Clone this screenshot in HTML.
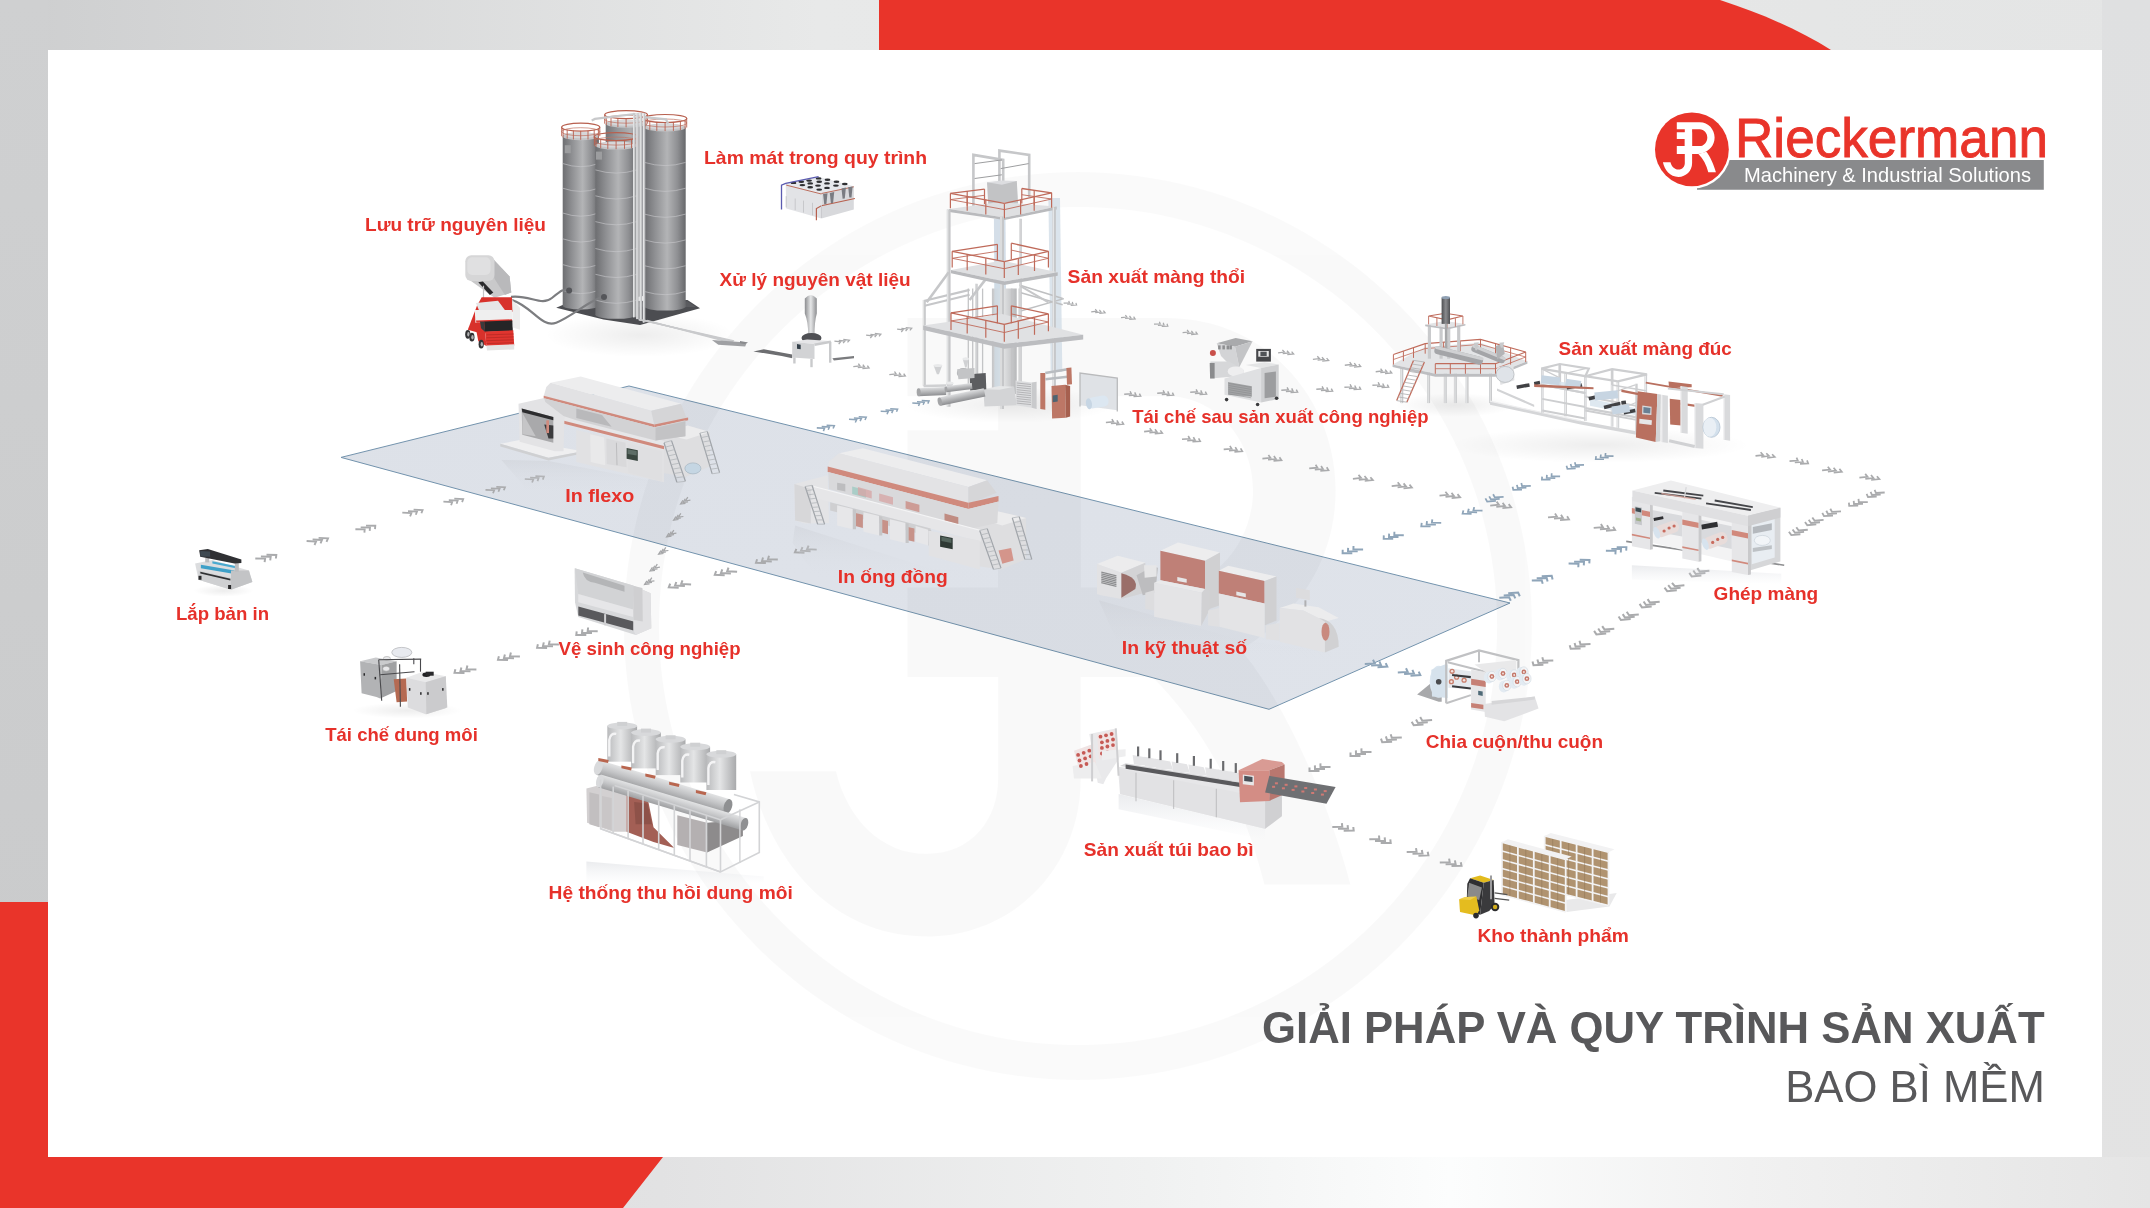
<!DOCTYPE html>
<html><head><meta charset="utf-8"><style>
html,body{margin:0;padding:0;width:2150px;height:1208px;overflow:hidden;background:#fff}
svg{display:block;will-change:transform}
.lb{font-family:"Liberation Sans",sans-serif;font-weight:bold;font-size:18.6px;fill:#e6312a}
.t1{font-family:"Liberation Sans",sans-serif;font-weight:bold;font-size:44.3px;fill:#58585a}
.t2{font-family:"Liberation Sans",sans-serif;font-size:44.6px;fill:#58585a}
.lg1{font-family:"Liberation Sans",sans-serif;font-size:55px;fill:#e9342a;stroke:#e9342a;stroke-width:0.9px}
.lg2{font-family:"Liberation Sans",sans-serif;font-size:21px;fill:#fff}
</style></head><body>
<svg width="2150" height="1208" viewBox="0 0 2150 1208">
<defs>
<linearGradient id="bgTop" x1="0" y1="0" x2="1" y2="0">
 <stop offset="0" stop-color="#cdcecf"/><stop offset="0.38" stop-color="#e8e9e9"/><stop offset="1" stop-color="#e4e5e5"/>
</linearGradient>
<linearGradient id="bgBot" x1="0" y1="0" x2="1" y2="0">
 <stop offset="0" stop-color="#d9dadb"/><stop offset="0.291" stop-color="#e2e2e3"/><stop offset="0.524" stop-color="#f0f1f1"/><stop offset="0.667" stop-color="#fcfdfd"/><stop offset="0.81" stop-color="#f1f1f1"/><stop offset="1" stop-color="#e5e5e5"/>
</linearGradient>
<linearGradient id="bgL" x1="0" y1="0" x2="0" y2="1">
 <stop offset="0" stop-color="#cfd0d1"/><stop offset="1" stop-color="#c9cacb"/>
</linearGradient>
<linearGradient id="bgR" x1="0" y1="0" x2="0" y2="1">
 <stop offset="0" stop-color="#dfe0e1"/><stop offset="1" stop-color="#e3e3e3"/>
</linearGradient>
<linearGradient id="floorG" x1="0" y1="0" x2="1" y2="1">
 <stop offset="0" stop-color="#dde1e8"/><stop offset="1" stop-color="#dfe3ea"/>
</linearGradient>
</defs>
<rect x="0.0" y="0.0" width="2150.0" height="1208.0" fill="url(#bgTop)" />
<rect x="0.0" y="0.0" width="48.0" height="1208.0" fill="url(#bgL)" />
<rect x="2102.0" y="0.0" width="48.0" height="1208.0" fill="url(#bgR)" />
<rect x="48.0" y="1157.0" width="2102.0" height="51.0" fill="url(#bgBot)" />
<rect x="48.0" y="50.0" width="2054.0" height="1107.0" fill="#ffffff" />
<path d="M879,0 L1720,0 C1760,13 1800,30 1831,50 L879,50 Z" fill="#e9342a"/>
<path d="M0,902 L48,902 L48,1157 L663,1157 L623,1208 L0,1208 Z" fill="#e9342a"/>
<polygon points="341.0,457.4 629.0,386.0 1510.0,603.0 1269.0,709.3" fill="url(#floorG)" stroke="#7393ad" stroke-width="1.0"/>
<g opacity="0.02" fill="#000">
<path d="M1078,172 A454,454 0 1 1 1077.9,172 Z M1078,207 A419,419 0 1 0 1078.1,207 Z" fill-rule="evenodd"/>
<g transform="translate(-18090.73,-1067.70) scale(11.33)">
<path d="M1676.8,122.3 H1699.7 C1708.5,122.3 1714.6,129.5 1714.6,137.5 C1714.6,145.5 1709,151 1703,153 L1698.4,154 H1676.8 V146.1 H1684.8 V139.1 H1676.8 V132.2 H1684.8 V129.2 H1676.8 Z M1692.1,132.2 V146.1 H1699.7 C1704,146.1 1707.3,142 1707.3,137.5 C1707.3,133 1704,129.2 1699.7,129.2 H1692.1 Z" fill-rule="evenodd"/><path d="M1684.8,132.2 H1692.1 V163 C1692.1,171 1686,176.9 1678.5,176.9 C1670,176.9 1664.5,170 1662.9,162.3 H1670.5 C1671.5,166.5 1674.5,169.6 1678.5,169.6 C1682.5,169.6 1684.8,166.5 1684.8,163 Z"/><path d="M1698.4,154 L1706.3,151.7 C1710,156 1714,165 1715.9,172.3 H1708.3 C1706.5,165 1703,158.5 1698.4,154 Z"/>
</g></g>
<g fill="none" stroke="#a5a6a8" stroke-width="1.25"><polyline points="685.5,503.3 680.6,504.0 682.9,500.2"/><polyline points="688.0,501.8 683.0,502.5 685.3,498.7"/><polyline points="690.4,500.2 685.4,501.0 687.8,497.2"/></g>
<g fill="none" stroke="#a5a6a8" stroke-width="1.25"><polyline points="678.5,519.5 673.6,520.2 675.9,516.5"/><polyline points="681.0,518.0 676.0,518.7 678.3,514.9"/><polyline points="683.4,516.5 678.4,517.2 680.8,513.4"/></g>
<g fill="none" stroke="#a5a6a8" stroke-width="1.25"><polyline points="671.5,536.2 666.6,536.9 668.9,533.1"/><polyline points="674.0,534.7 669.0,535.4 671.3,531.6"/><polyline points="676.4,533.1 671.4,533.9 673.8,530.1"/></g>
<g fill="none" stroke="#a5a6a8" stroke-width="1.25"><polyline points="663.5,553.5 658.6,554.2 660.9,550.5"/><polyline points="666.0,552.0 661.0,552.7 663.3,548.9"/><polyline points="668.4,550.5 663.4,551.2 665.8,547.4"/></g>
<g fill="none" stroke="#a5a6a8" stroke-width="1.25"><polyline points="655.0,570.3 650.1,571.0 652.4,567.2"/><polyline points="657.5,568.8 652.5,569.5 654.8,565.7"/><polyline points="659.9,567.2 654.9,568.0 657.3,564.2"/></g>
<g fill="none" stroke="#a5a6a8" stroke-width="1.25"><polyline points="649.5,583.8 644.6,584.5 646.9,580.8"/><polyline points="652.0,582.3 647.0,583.0 649.3,579.2"/><polyline points="654.4,580.8 649.4,581.5 651.8,577.7"/></g>
<g fill="none" stroke="#aaabad" stroke-width="1.96" stroke-linejoin="miter" stroke-miterlimit="3"><polyline points="275.9,558.5 276.3,555.0 266.5,554.8"/><polyline points="270.2,560.3 270.7,556.8 260.9,556.6"/><polyline points="264.6,562.2 265.1,558.6 255.3,558.5"/></g>
<g fill="none" stroke="#aaabad" stroke-width="1.91" stroke-linejoin="miter" stroke-miterlimit="3"><polyline points="326.5,541.8 328.0,538.4 318.6,537.9"/><polyline points="320.5,543.4 322.0,540.0 312.6,539.5"/><polyline points="314.5,545.0 316.0,541.6 306.6,541.0"/></g>
<g fill="none" stroke="#aaabad" stroke-width="1.87" stroke-linejoin="miter" stroke-miterlimit="3"><polyline points="375.0,529.1 375.3,525.7 366.0,525.6"/><polyline points="369.7,530.9 370.0,527.5 360.7,527.4"/><polyline points="364.4,532.7 364.7,529.3 355.4,529.2"/></g>
<g fill="none" stroke="#aaabad" stroke-width="1.82" stroke-linejoin="miter" stroke-miterlimit="3"><polyline points="421.4,513.3 422.6,510.1 413.6,509.6"/><polyline points="415.8,514.8 417.0,511.6 408.0,511.2"/><polyline points="410.1,516.4 411.4,513.1 402.3,512.7"/></g>
<g fill="none" stroke="#aaabad" stroke-width="1.79" stroke-linejoin="miter" stroke-miterlimit="3"><polyline points="462.1,502.1 463.2,499.0 454.3,498.6"/><polyline points="456.6,503.7 457.7,500.5 448.8,500.1"/><polyline points="451.1,505.2 452.2,502.0 443.4,501.7"/></g>
<g fill="none" stroke="#aaabad" stroke-width="1.75" stroke-linejoin="miter" stroke-miterlimit="3"><polyline points="503.8,490.3 505.0,487.2 496.3,486.8"/><polyline points="498.4,491.8 499.6,488.7 490.9,488.3"/><polyline points="493.0,493.3 494.2,490.2 485.5,489.8"/></g>
<g fill="none" stroke="#aaabad" stroke-width="1.72" stroke-linejoin="miter" stroke-miterlimit="3"><polyline points="542.8,479.6 543.9,476.5 535.4,476.1"/><polyline points="537.5,481.1 538.6,478.0 530.1,477.6"/><polyline points="532.1,482.5 533.3,479.5 524.8,479.0"/></g>
<g fill="none" stroke="#aaabad" stroke-width="1.94" stroke-linejoin="miter" stroke-miterlimit="3"><polyline points="796.4,548.9 794.9,552.3 804.5,552.8"/><polyline points="802.5,547.2 801.0,550.7 810.6,551.2"/><polyline points="808.6,545.6 807.1,549.1 816.7,549.6"/></g>
<g fill="none" stroke="#aaabad" stroke-width="1.97" stroke-linejoin="miter" stroke-miterlimit="3"><polyline points="757.1,559.2 756.0,562.7 765.9,563.1"/><polyline points="763.0,557.5 762.0,561.0 771.8,561.4"/><polyline points="769.0,555.7 768.0,559.3 777.8,559.6"/></g>
<g fill="none" stroke="#aaabad" stroke-width="2.00" stroke-linejoin="miter" stroke-miterlimit="3"><polyline points="716.2,571.1 714.8,574.7 724.7,575.2"/><polyline points="722.3,569.4 721.0,573.0 730.9,573.5"/><polyline points="728.5,567.7 727.2,571.3 737.1,571.8"/></g>
<g fill="none" stroke="#aaabad" stroke-width="2.00" stroke-linejoin="miter" stroke-miterlimit="3"><polyline points="670.2,583.7 668.8,587.3 678.7,587.8"/><polyline points="676.3,582.0 675.0,585.6 684.9,586.1"/><polyline points="682.5,580.3 681.2,583.9 691.1,584.4"/></g>
<g fill="none" stroke="#aaabad" stroke-width="2.00" stroke-linejoin="miter" stroke-miterlimit="3"><polyline points="576.7,631.3 576.3,634.9 586.3,635.0"/><polyline points="582.4,629.4 582.0,633.0 592.0,633.1"/><polyline points="588.1,627.5 587.7,631.1 597.7,631.2"/></g>
<g fill="none" stroke="#aaabad" stroke-width="2.00" stroke-linejoin="miter" stroke-miterlimit="3"><polyline points="537.9,644.2 537.1,647.8 547.1,648.1"/><polyline points="543.8,642.4 543.0,646.0 553.0,646.3"/><polyline points="549.7,640.6 548.9,644.2 558.9,644.5"/></g>
<g fill="none" stroke="#aaabad" stroke-width="2.00" stroke-linejoin="miter" stroke-miterlimit="3"><polyline points="498.9,656.2 498.0,659.8 508.0,660.1"/><polyline points="504.9,654.4 504.0,658.0 514.0,658.3"/><polyline points="510.9,652.6 510.0,656.2 519.9,656.5"/></g>
<g fill="none" stroke="#aaabad" stroke-width="2.00" stroke-linejoin="miter" stroke-miterlimit="3"><polyline points="455.4,669.2 454.5,672.8 464.5,673.1"/><polyline points="461.4,667.4 460.5,671.0 470.5,671.3"/><polyline points="467.4,665.6 466.5,669.2 476.4,669.5"/></g>
<g fill="none" stroke="#aaabad" stroke-width="1.29" stroke-linejoin="miter" stroke-miterlimit="3"><polyline points="847.5,342.4 849.4,340.2 843.3,339.5"/><polyline points="843.1,343.2 845.0,341.0 838.8,340.3"/><polyline points="838.7,344.1 840.6,341.8 834.4,341.2"/></g>
<g fill="none" stroke="#aaabad" stroke-width="1.27" stroke-linejoin="miter" stroke-miterlimit="3"><polyline points="879.0,336.3 880.8,334.2 874.8,333.5"/><polyline points="874.7,337.2 876.5,335.0 870.4,334.3"/><polyline points="870.3,338.0 872.2,335.8 866.1,335.2"/></g>
<g fill="none" stroke="#aaabad" stroke-width="1.25" stroke-linejoin="miter" stroke-miterlimit="3"><polyline points="909.9,330.3 911.7,328.2 905.7,327.5"/><polyline points="905.6,331.2 907.4,329.0 901.4,328.4"/><polyline points="901.3,332.0 903.1,329.8 897.1,329.2"/></g>
<g fill="none" stroke="#aaabad" stroke-width="1.37" stroke-linejoin="miter" stroke-miterlimit="3"><polyline points="862.4,368.6 869.0,368.0 867.4,365.6"/><polyline points="857.8,367.6 864.5,367.0 862.9,364.6"/><polyline points="853.3,366.6 860.0,366.0 858.4,363.6"/></g>
<g fill="none" stroke="#aaabad" stroke-width="1.39" stroke-linejoin="miter" stroke-miterlimit="3"><polyline points="898.5,376.6 905.3,376.0 903.7,373.6"/><polyline points="893.9,375.6 900.7,375.0 899.1,372.6"/><polyline points="889.3,374.6 896.1,374.0 894.5,371.5"/></g>
<g fill="none" stroke="#8fa5b9" stroke-width="1.56" stroke-linejoin="miter" stroke-miterlimit="3"><polyline points="833.1,428.5 834.3,425.7 826.6,425.3"/><polyline points="828.2,429.8 829.4,427.0 821.7,426.6"/><polyline points="823.4,431.1 824.5,428.3 816.8,427.9"/></g>
<g fill="none" stroke="#8fa5b9" stroke-width="1.53" stroke-linejoin="miter" stroke-miterlimit="3"><polyline points="865.0,420.0 866.2,417.3 858.7,416.8"/><polyline points="860.1,421.2 861.4,418.5 853.9,418.0"/><polyline points="855.3,422.5 856.6,419.7 849.0,419.3"/></g>
<g fill="none" stroke="#8fa5b9" stroke-width="1.50" stroke-linejoin="miter" stroke-miterlimit="3"><polyline points="896.5,411.8 897.6,409.2 890.2,408.7"/><polyline points="891.7,413.1 892.9,410.4 885.5,410.0"/><polyline points="887.0,414.3 888.2,411.6 880.7,411.2"/></g>
<g fill="none" stroke="#8fa5b9" stroke-width="1.48" stroke-linejoin="miter" stroke-miterlimit="3"><polyline points="927.8,403.6 929.0,401.0 921.7,400.6"/><polyline points="923.1,404.8 924.3,402.2 917.0,401.8"/><polyline points="918.5,406.0 919.6,403.4 912.3,403.0"/></g>
<g fill="none" stroke="#aaabad" stroke-width="1.17" stroke-linejoin="miter" stroke-miterlimit="3"><polyline points="1070.7,305.3 1076.6,305.0 1075.9,302.9"/><polyline points="1067.2,304.2 1073.0,304.0 1072.3,301.9"/><polyline points="1063.6,303.2 1069.4,303.0 1068.8,300.9"/></g>
<g fill="none" stroke="#aaabad" stroke-width="1.20" stroke-linejoin="miter" stroke-miterlimit="3"><polyline points="1099.3,313.4 1105.1,312.8 1103.4,310.7"/><polyline points="1095.2,312.6 1101.0,312.0 1099.4,309.9"/><polyline points="1091.2,311.8 1096.9,311.2 1095.3,309.1"/></g>
<g fill="none" stroke="#aaabad" stroke-width="1.22" stroke-linejoin="miter" stroke-miterlimit="3"><polyline points="1129.2,319.4 1135.1,318.9 1133.6,316.7"/><polyline points="1125.1,318.5 1131.0,318.0 1129.5,315.9"/><polyline points="1121.0,317.7 1126.9,317.1 1125.4,315.0"/></g>
<g fill="none" stroke="#aaabad" stroke-width="1.24" stroke-linejoin="miter" stroke-miterlimit="3"><polyline points="1161.7,326.3 1167.8,326.1 1167.0,323.8"/><polyline points="1157.9,325.3 1164.0,325.0 1163.2,322.8"/><polyline points="1154.0,324.2 1160.2,323.9 1159.4,321.7"/></g>
<g fill="none" stroke="#aaabad" stroke-width="1.26" stroke-linejoin="miter" stroke-miterlimit="3"><polyline points="1191.1,334.5 1197.3,333.9 1195.6,331.7"/><polyline points="1186.9,333.6 1193.0,333.0 1191.4,330.8"/><polyline points="1182.6,332.7 1188.7,332.1 1187.1,329.9"/></g>
<g fill="none" stroke="#aaabad" stroke-width="1.33" stroke-linejoin="miter" stroke-miterlimit="3"><polyline points="1287.3,354.6 1293.6,353.9 1291.6,351.6"/><polyline points="1282.7,353.7 1289.0,353.0 1287.0,350.7"/><polyline points="1278.1,352.9 1284.4,352.1 1282.4,349.9"/></g>
<g fill="none" stroke="#aaabad" stroke-width="1.35" stroke-linejoin="miter" stroke-miterlimit="3"><polyline points="1322.2,361.1 1328.6,360.4 1326.6,358.1"/><polyline points="1317.6,360.2 1324.0,359.5 1322.0,357.2"/><polyline points="1312.9,359.4 1319.4,358.6 1317.3,356.3"/></g>
<g fill="none" stroke="#aaabad" stroke-width="1.36" stroke-linejoin="miter" stroke-miterlimit="3"><polyline points="1354.0,367.1 1360.6,366.5 1358.8,364.1"/><polyline points="1349.4,366.1 1356.0,365.5 1354.3,363.1"/><polyline points="1344.8,365.2 1351.4,364.5 1349.7,362.2"/></g>
<g fill="none" stroke="#aaabad" stroke-width="1.38" stroke-linejoin="miter" stroke-miterlimit="3"><polyline points="1385.0,373.6 1391.7,373.0 1389.9,370.6"/><polyline points="1380.3,372.6 1387.0,372.0 1385.2,369.6"/><polyline points="1375.7,371.7 1382.3,371.0 1380.6,368.6"/></g>
<g fill="none" stroke="#aaabad" stroke-width="1.46" stroke-linejoin="miter" stroke-miterlimit="3"><polyline points="1133.5,396.6 1140.7,396.2 1139.4,393.6"/><polyline points="1128.8,395.5 1136.0,395.0 1134.7,392.4"/><polyline points="1124.2,394.3 1131.3,393.8 1130.1,391.3"/></g>
<g fill="none" stroke="#aaabad" stroke-width="1.45" stroke-linejoin="miter" stroke-miterlimit="3"><polyline points="1166.5,395.6 1173.6,395.2 1172.4,392.6"/><polyline points="1161.8,394.5 1169.0,394.0 1167.7,391.4"/><polyline points="1157.2,393.3 1164.4,392.8 1163.1,390.3"/></g>
<g fill="none" stroke="#aaabad" stroke-width="1.45" stroke-linejoin="miter" stroke-miterlimit="3"><polyline points="1199.5,394.6 1206.6,394.2 1205.3,391.6"/><polyline points="1194.9,393.5 1202.0,393.0 1200.7,390.4"/><polyline points="1190.2,392.3 1197.4,391.8 1196.1,389.3"/></g>
<g fill="none" stroke="#aaabad" stroke-width="1.44" stroke-linejoin="miter" stroke-miterlimit="3"><polyline points="1290.5,392.6 1297.6,392.2 1296.3,389.6"/><polyline points="1285.9,391.5 1293.0,391.0 1291.7,388.4"/><polyline points="1281.3,390.3 1288.4,389.8 1287.1,387.3"/></g>
<g fill="none" stroke="#aaabad" stroke-width="1.44" stroke-linejoin="miter" stroke-miterlimit="3"><polyline points="1325.5,391.6 1332.6,391.2 1331.3,388.6"/><polyline points="1320.9,390.5 1328.0,390.0 1326.7,387.4"/><polyline points="1316.3,389.3 1323.4,388.8 1322.1,386.3"/></g>
<g fill="none" stroke="#aaabad" stroke-width="1.43" stroke-linejoin="miter" stroke-miterlimit="3"><polyline points="1353.5,389.6 1360.6,389.1 1359.3,386.6"/><polyline points="1348.9,388.5 1356.0,388.0 1354.7,385.5"/><polyline points="1344.4,387.3 1351.4,386.9 1350.1,384.3"/></g>
<g fill="none" stroke="#aaabad" stroke-width="1.43" stroke-linejoin="miter" stroke-miterlimit="3"><polyline points="1381.5,387.6 1388.6,387.1 1387.3,384.6"/><polyline points="1377.0,386.5 1384.0,386.0 1382.7,383.5"/><polyline points="1372.4,385.3 1379.4,384.9 1378.2,382.3"/></g>
<g fill="none" stroke="#aaabad" stroke-width="1.54" stroke-linejoin="miter" stroke-miterlimit="3"><polyline points="1116.0,424.8 1123.5,424.2 1121.9,421.5"/><polyline points="1110.9,423.6 1118.5,423.0 1116.9,420.3"/><polyline points="1105.9,422.4 1113.5,421.8 1111.9,419.1"/></g>
<g fill="none" stroke="#aaabad" stroke-width="1.57" stroke-linejoin="miter" stroke-miterlimit="3"><polyline points="1154.7,433.8 1162.3,433.1 1160.3,430.4"/><polyline points="1149.4,432.7 1157.0,432.0 1155.0,429.3"/><polyline points="1144.1,431.6 1151.7,430.9 1149.7,428.2"/></g>
<g fill="none" stroke="#aaabad" stroke-width="1.60" stroke-linejoin="miter" stroke-miterlimit="3"><polyline points="1192.4,441.8 1200.2,441.2 1198.6,438.4"/><polyline points="1187.2,440.6 1195.0,440.0 1193.4,437.2"/><polyline points="1182.0,439.3 1189.8,438.8 1188.2,436.0"/></g>
<g fill="none" stroke="#aaabad" stroke-width="1.63" stroke-linejoin="miter" stroke-miterlimit="3"><polyline points="1234.4,451.9 1242.3,451.2 1240.6,448.4"/><polyline points="1229.0,450.6 1237.0,450.0 1235.3,447.1"/><polyline points="1223.7,449.4 1231.7,448.8 1229.9,445.9"/></g>
<g fill="none" stroke="#aaabad" stroke-width="1.66" stroke-linejoin="miter" stroke-miterlimit="3"><polyline points="1273.5,460.9 1281.5,460.2 1279.5,457.3"/><polyline points="1268.0,459.7 1276.0,459.0 1273.9,456.1"/><polyline points="1262.4,458.6 1270.5,457.8 1268.4,454.9"/></g>
<g fill="none" stroke="#aaabad" stroke-width="1.69" stroke-linejoin="miter" stroke-miterlimit="3"><polyline points="1320.3,470.9 1328.5,470.3 1326.7,467.3"/><polyline points="1314.8,469.7 1323.0,469.0 1321.1,466.0"/><polyline points="1309.2,468.4 1317.5,467.7 1315.6,464.8"/></g>
<g fill="none" stroke="#aaabad" stroke-width="1.72" stroke-linejoin="miter" stroke-miterlimit="3"><polyline points="1364.7,481.0 1372.9,480.1 1370.4,477.2"/><polyline points="1358.8,479.9 1367.0,479.0 1364.5,476.0"/><polyline points="1352.9,478.8 1361.1,477.9 1358.5,474.9"/></g>
<g fill="none" stroke="#aaabad" stroke-width="1.74" stroke-linejoin="miter" stroke-miterlimit="3"><polyline points="1403.5,488.4 1411.9,487.6 1409.5,484.6"/><polyline points="1397.6,487.3 1406.0,486.4 1403.6,483.4"/><polyline points="1391.7,486.1 1400.1,485.2 1397.7,482.2"/></g>
<g fill="none" stroke="#aaabad" stroke-width="1.77" stroke-linejoin="miter" stroke-miterlimit="3"><polyline points="1451.6,498.1 1460.1,497.2 1457.5,494.1"/><polyline points="1445.5,496.9 1454.0,496.0 1451.5,492.9"/><polyline points="1439.5,495.7 1447.9,494.8 1445.4,491.8"/></g>
<g fill="none" stroke="#aaabad" stroke-width="1.80" stroke-linejoin="miter" stroke-miterlimit="3"><polyline points="1502.4,508.1 1511.1,507.3 1508.7,504.1"/><polyline points="1496.3,506.8 1505.0,506.0 1502.6,502.9"/><polyline points="1490.2,505.6 1498.9,504.7 1496.6,501.6"/></g>
<g fill="none" stroke="#aaabad" stroke-width="1.84" stroke-linejoin="miter" stroke-miterlimit="3"><polyline points="1560.0,520.1 1569.0,519.4 1567.1,516.2"/><polyline points="1554.0,518.7 1563.0,518.0 1561.0,514.8"/><polyline points="1548.0,517.3 1557.0,516.6 1555.0,513.4"/></g>
<g fill="none" stroke="#aaabad" stroke-width="1.87" stroke-linejoin="miter" stroke-miterlimit="3"><polyline points="1606.0,530.7 1615.1,530.0 1613.1,526.7"/><polyline points="1599.9,529.3 1609.0,528.6 1607.0,525.3"/><polyline points="1593.7,527.9 1602.9,527.2 1600.9,523.9"/></g>
<g fill="none" stroke="#8fa5b9" stroke-width="1.65" stroke-linejoin="miter" stroke-miterlimit="3"><polyline points="1596.1,456.1 1595.7,459.1 1604.0,459.2"/><polyline points="1600.9,454.5 1600.5,457.5 1608.7,457.6"/><polyline points="1605.6,453.0 1605.3,455.9 1613.5,456.1"/></g>
<g fill="none" stroke="#8fa5b9" stroke-width="1.68" stroke-linejoin="miter" stroke-miterlimit="3"><polyline points="1566.5,465.8 1567.4,468.8 1575.7,468.5"/><polyline points="1570.6,464.0 1571.5,467.0 1579.9,466.7"/><polyline points="1574.8,462.2 1575.6,465.2 1584.0,464.9"/></g>
<g fill="none" stroke="#8fa5b9" stroke-width="1.72" stroke-linejoin="miter" stroke-miterlimit="3"><polyline points="1542.1,476.6 1541.9,479.7 1550.5,479.7"/><polyline points="1546.9,474.9 1546.7,478.0 1555.3,478.1"/><polyline points="1551.7,473.3 1551.5,476.3 1560.1,476.4"/></g>
<g fill="none" stroke="#8fa5b9" stroke-width="1.75" stroke-linejoin="miter" stroke-miterlimit="3"><polyline points="1512.6,486.7 1513.3,489.9 1522.0,489.6"/><polyline points="1516.9,484.9 1517.7,488.0 1526.4,487.7"/><polyline points="1521.3,483.0 1522.1,486.1 1530.8,485.8"/></g>
<g fill="none" stroke="#8fa5b9" stroke-width="1.78" stroke-linejoin="miter" stroke-miterlimit="3"><polyline points="1485.4,498.4 1487.2,501.6 1495.9,500.9"/><polyline points="1489.2,496.4 1491.0,499.5 1499.7,498.9"/><polyline points="1493.1,494.3 1494.8,497.4 1503.6,496.8"/></g>
<g fill="none" stroke="#8fa5b9" stroke-width="1.82" stroke-linejoin="miter" stroke-miterlimit="3"><polyline points="1463.4,510.4 1462.6,513.6 1471.6,513.9"/><polyline points="1468.8,508.7 1468.0,512.0 1477.1,512.3"/><polyline points="1474.2,507.1 1473.4,510.4 1482.5,510.6"/></g>
<g fill="none" stroke="#8fa5b9" stroke-width="1.86" stroke-linejoin="miter" stroke-miterlimit="3"><polyline points="1421.7,522.9 1421.3,526.3 1430.6,526.4"/><polyline points="1427.0,521.2 1426.6,524.5 1435.9,524.6"/><polyline points="1432.3,519.4 1431.9,522.7 1441.2,522.9"/></g>
<g fill="none" stroke="#8fa5b9" stroke-width="1.90" stroke-linejoin="miter" stroke-miterlimit="3"><polyline points="1383.8,535.4 1383.7,538.9 1393.2,538.9"/><polyline points="1389.1,533.6 1389.0,537.0 1398.5,537.0"/><polyline points="1394.4,531.7 1394.3,535.1 1403.8,535.2"/></g>
<g fill="none" stroke="#8fa5b9" stroke-width="1.94" stroke-linejoin="miter" stroke-miterlimit="3"><polyline points="1342.7,549.8 1342.6,553.3 1352.3,553.3"/><polyline points="1348.1,547.9 1348.0,551.4 1357.7,551.4"/><polyline points="1353.5,546.0 1353.4,549.5 1363.1,549.5"/></g>
<g fill="none" stroke="#aaabad" stroke-width="1.65" stroke-linejoin="miter" stroke-miterlimit="3"><polyline points="1767.0,458.0 1774.8,457.0 1772.1,454.2"/><polyline points="1761.2,457.0 1769.0,456.0 1766.3,453.2"/><polyline points="1755.5,455.9 1763.2,455.0 1760.6,452.2"/></g>
<g fill="none" stroke="#aaabad" stroke-width="1.67" stroke-linejoin="miter" stroke-miterlimit="3"><polyline points="1800.0,463.8 1808.2,463.4 1807.0,460.4"/><polyline points="1794.8,462.5 1803.0,462.0 1801.7,459.0"/><polyline points="1789.5,461.1 1797.8,460.6 1796.5,457.7"/></g>
<g fill="none" stroke="#aaabad" stroke-width="1.69" stroke-linejoin="miter" stroke-miterlimit="3"><polyline points="1833.7,472.7 1841.8,471.8 1839.4,468.9"/><polyline points="1827.9,471.6 1836.0,470.7 1833.6,467.8"/><polyline points="1822.1,470.4 1830.2,469.6 1827.8,466.7"/></g>
<g fill="none" stroke="#aaabad" stroke-width="1.72" stroke-linejoin="miter" stroke-miterlimit="3"><polyline points="1871.1,480.0 1879.4,479.1 1876.9,476.2"/><polyline points="1865.3,478.9 1873.5,478.0 1871.0,475.0"/><polyline points="1859.4,477.7 1867.6,476.9 1865.2,473.9"/></g>
<g fill="none" stroke="#aaabad" stroke-width="1.77" stroke-linejoin="miter" stroke-miterlimit="3"><polyline points="1866.6,493.9 1868.0,497.0 1876.7,496.5"/><polyline points="1870.6,491.9 1872.0,495.0 1880.7,494.5"/><polyline points="1874.6,489.8 1876.0,493.0 1884.7,492.5"/></g>
<g fill="none" stroke="#aaabad" stroke-width="1.80" stroke-linejoin="miter" stroke-miterlimit="3"><polyline points="1848.9,502.6 1849.2,505.8 1858.2,505.7"/><polyline points="1853.7,500.8 1854.0,504.0 1863.0,503.9"/><polyline points="1858.5,498.9 1858.8,502.2 1867.8,502.1"/></g>
<g fill="none" stroke="#aaabad" stroke-width="1.83" stroke-linejoin="miter" stroke-miterlimit="3"><polyline points="1822.3,512.9 1824.0,516.1 1833.0,515.5"/><polyline points="1826.3,510.8 1828.0,514.0 1837.0,513.4"/><polyline points="1830.3,508.7 1832.0,511.9 1841.0,511.3"/></g>
<g fill="none" stroke="#aaabad" stroke-width="1.86" stroke-linejoin="miter" stroke-miterlimit="3"><polyline points="1805.0,522.0 1807.3,525.2 1816.3,524.4"/><polyline points="1808.7,519.8 1811.0,523.0 1820.0,522.2"/><polyline points="1812.3,517.5 1814.7,520.8 1823.6,519.9"/></g>
<g fill="none" stroke="#aaabad" stroke-width="1.89" stroke-linejoin="miter" stroke-miterlimit="3"><polyline points="1788.9,531.8 1791.3,535.1 1800.4,534.2"/><polyline points="1792.6,529.5 1795.0,532.8 1804.1,531.9"/><polyline points="1796.3,527.2 1798.7,530.5 1807.8,529.7"/></g>
<g fill="none" stroke="#8fa5b9" stroke-width="2.00" stroke-linejoin="miter" stroke-miterlimit="3"><polyline points="1519.8,596.2 1518.1,592.6 1508.2,593.2"/><polyline points="1515.3,598.4 1513.6,594.9 1503.7,595.5"/><polyline points="1510.8,600.7 1509.1,597.2 1499.3,597.8"/></g>
<g fill="none" stroke="#8fa5b9" stroke-width="2.00" stroke-linejoin="miter" stroke-miterlimit="3"><polyline points="1552.6,579.4 1551.7,575.8 1541.7,576.2"/><polyline points="1547.6,581.6 1546.7,578.0 1536.7,578.3"/><polyline points="1542.7,583.7 1541.7,580.2 1531.8,580.5"/></g>
<g fill="none" stroke="#8fa5b9" stroke-width="1.98" stroke-linejoin="miter" stroke-miterlimit="3"><polyline points="1589.3,563.4 1589.5,559.9 1579.7,559.8"/><polyline points="1583.8,565.4 1584.0,561.8 1574.1,561.7"/><polyline points="1578.3,567.3 1578.5,563.7 1568.6,563.6"/></g>
<g fill="none" stroke="#8fa5b9" stroke-width="1.94" stroke-linejoin="miter" stroke-miterlimit="3"><polyline points="1626.2,550.6 1626.4,547.1 1616.7,547.1"/><polyline points="1620.8,552.5 1621.0,549.0 1611.3,548.9"/><polyline points="1615.4,554.4 1615.6,550.9 1605.9,550.8"/></g>
<g fill="none" stroke="#aaabad" stroke-width="2.00" stroke-linejoin="miter" stroke-miterlimit="3"><polyline points="1689.3,572.9 1691.7,576.4 1701.4,575.5"/><polyline points="1693.3,570.5 1695.7,574.0 1705.4,573.1"/><polyline points="1697.3,568.1 1699.7,571.6 1709.4,570.7"/></g>
<g fill="none" stroke="#aaabad" stroke-width="2.00" stroke-linejoin="miter" stroke-miterlimit="3"><polyline points="1664.5,587.7 1667.2,591.2 1676.8,590.2"/><polyline points="1668.2,585.2 1671.0,588.7 1680.6,587.7"/><polyline points="1672.0,582.8 1674.8,586.2 1684.4,585.3"/></g>
<g fill="none" stroke="#aaabad" stroke-width="2.00" stroke-linejoin="miter" stroke-miterlimit="3"><polyline points="1639.6,603.9 1642.0,607.4 1651.7,606.5"/><polyline points="1643.6,601.5 1646.0,605.0 1655.7,604.1"/><polyline points="1647.6,599.1 1650.0,602.6 1659.7,601.7"/></g>
<g fill="none" stroke="#aaabad" stroke-width="2.00" stroke-linejoin="miter" stroke-miterlimit="3"><polyline points="1618.6,616.5 1620.9,620.0 1630.7,619.1"/><polyline points="1622.7,614.1 1625.0,617.6 1634.7,616.8"/><polyline points="1626.7,611.7 1629.1,615.2 1638.8,614.4"/></g>
<g fill="none" stroke="#aaabad" stroke-width="2.00" stroke-linejoin="miter" stroke-miterlimit="3"><polyline points="1594.1,630.9 1596.4,634.4 1606.2,633.5"/><polyline points="1598.2,628.5 1600.5,632.0 1610.2,631.2"/><polyline points="1602.2,626.1 1604.6,629.6 1614.3,628.8"/></g>
<g fill="none" stroke="#aaabad" stroke-width="2.00" stroke-linejoin="miter" stroke-miterlimit="3"><polyline points="1569.7,645.2 1570.7,648.8 1580.6,648.4"/><polyline points="1574.6,643.0 1575.6,646.6 1585.5,646.2"/><polyline points="1579.5,640.8 1580.5,644.4 1590.5,644.1"/></g>
<g fill="none" stroke="#aaabad" stroke-width="2.00" stroke-linejoin="miter" stroke-miterlimit="3"><polyline points="1532.5,661.6 1533.5,665.2 1543.4,664.8"/><polyline points="1537.4,659.4 1538.4,663.0 1548.3,662.6"/><polyline points="1542.3,657.2 1543.3,660.8 1553.3,660.5"/></g>
<g fill="none" stroke="#8fa5b9" stroke-width="2.00" stroke-linejoin="miter" stroke-miterlimit="3"><polyline points="1377.5,667.2 1387.3,666.6 1385.7,663.1"/><polyline points="1371.1,665.6 1381.0,665.0 1379.4,661.4"/><polyline points="1364.8,664.0 1374.7,663.4 1373.0,659.8"/></g>
<g fill="none" stroke="#8fa5b9" stroke-width="2.00" stroke-linejoin="miter" stroke-miterlimit="3"><polyline points="1410.5,675.7 1420.3,675.1 1418.7,671.6"/><polyline points="1404.1,674.1 1414.0,673.5 1412.4,669.9"/><polyline points="1397.8,672.5 1407.7,671.9 1406.0,668.3"/></g>
<g fill="none" stroke="#aaabad" stroke-width="2.00" stroke-linejoin="miter" stroke-miterlimit="3"><polyline points="1411.7,721.8 1413.7,725.3 1423.5,724.6"/><polyline points="1416.0,719.5 1418.0,723.0 1427.8,722.3"/><polyline points="1420.2,717.1 1422.3,720.7 1432.1,719.9"/></g>
<g fill="none" stroke="#aaabad" stroke-width="2.00" stroke-linejoin="miter" stroke-miterlimit="3"><polyline points="1381.0,738.6 1382.2,742.2 1392.1,741.8"/><polyline points="1385.9,736.4 1387.0,740.0 1396.9,739.6"/><polyline points="1390.7,734.2 1391.8,737.8 1401.8,737.4"/></g>
<g fill="none" stroke="#aaabad" stroke-width="2.00" stroke-linejoin="miter" stroke-miterlimit="3"><polyline points="1350.5,752.4 1350.5,756.0 1360.5,756.0"/><polyline points="1355.9,750.4 1356.0,754.0 1366.0,754.0"/><polyline points="1361.4,748.4 1361.5,752.0 1371.5,752.0"/></g>
<g fill="none" stroke="#aaabad" stroke-width="2.00" stroke-linejoin="miter" stroke-miterlimit="3"><polyline points="1309.5,767.4 1309.5,771.0 1319.5,771.0"/><polyline points="1314.9,765.4 1315.0,769.0 1325.0,769.0"/><polyline points="1320.4,763.4 1320.5,767.0 1330.5,767.0"/></g>
<g fill="none" stroke="#aaabad" stroke-width="2.00" stroke-linejoin="miter" stroke-miterlimit="3"><polyline points="1343.7,830.7 1353.7,830.6 1353.3,827.0"/><polyline points="1338.0,828.8 1348.0,828.7 1347.6,825.1"/><polyline points="1332.3,826.9 1342.3,826.8 1341.9,823.2"/></g>
<g fill="none" stroke="#aaabad" stroke-width="2.00" stroke-linejoin="miter" stroke-miterlimit="3"><polyline points="1380.7,843.0 1390.7,842.9 1390.3,839.3"/><polyline points="1375.0,841.1 1385.0,841.0 1384.7,837.4"/><polyline points="1369.3,839.2 1379.3,839.1 1379.0,835.5"/></g>
<g fill="none" stroke="#aaabad" stroke-width="2.00" stroke-linejoin="miter" stroke-miterlimit="3"><polyline points="1418.4,855.7 1428.4,855.4 1427.7,851.8"/><polyline points="1412.5,853.8 1422.5,853.6 1421.8,850.0"/><polyline points="1406.7,852.0 1416.6,851.8 1416.0,848.2"/></g>
<g fill="none" stroke="#aaabad" stroke-width="2.00" stroke-linejoin="miter" stroke-miterlimit="3"><polyline points="1451.5,866.1 1461.5,865.8 1460.8,862.2"/><polyline points="1445.6,864.2 1455.6,864.0 1454.9,860.4"/><polyline points="1439.8,862.4 1449.7,862.2 1449.1,858.6"/></g>
<defs>
<linearGradient id="siloG" x1="0" y1="0" x2="1" y2="0">
 <stop offset="0" stop-color="#6d6e71"/><stop offset="0.25" stop-color="#8e8f92"/><stop offset="0.55" stop-color="#b3b4b6"/><stop offset="0.8" stop-color="#8f9093"/><stop offset="1" stop-color="#67686b"/>
</linearGradient>
<linearGradient id="siloG2" x1="0" y1="0" x2="1" y2="0">
 <stop offset="0" stop-color="#747578"/><stop offset="0.3" stop-color="#96979a"/><stop offset="0.6" stop-color="#aeafb1"/><stop offset="0.85" stop-color="#8b8c8f"/><stop offset="1" stop-color="#6f7073"/>
</linearGradient>
<linearGradient id="pipeG" x1="0" y1="0" x2="1" y2="0">
 <stop offset="0" stop-color="#9fa0a2"/><stop offset="0.5" stop-color="#e2e3e4"/><stop offset="1" stop-color="#a9aaac"/>
</linearGradient>
<radialGradient id="shadowG" cx="0.5" cy="0.5" r="0.5">
 <stop offset="0" stop-color="#000" stop-opacity="0.07"/><stop offset="1" stop-color="#000" stop-opacity="0"/>
</radialGradient>
</defs>
<ellipse cx="640" cy="335" rx="95" ry="22" fill="url(#shadowG)"/>
<polygon points="556.2,307.7 569.1,302.3 687.5,300.1 700.0,308.3 640.1,324.9 603.5,319.5" fill="#4c4d51" />
<polygon points="560.5,306.6 687.5,301.2 696.1,307.0" fill="#5a5b5f" />
<rect x="605.7" y="123.7" width="40.9" height="170.0" fill="url(#siloG2)"/>
<ellipse cx="626.1" cy="293.7" rx="20.4" ry="4" fill="url(#siloG2)"/>
<ellipse cx="626.1" cy="123.7" rx="20.4" ry="4" fill="#c4c5c7"/>
<ellipse cx="626.1" cy="122.7" rx="17.4" ry="3" fill="#d6d7d9"/>
<ellipse cx="626.1" cy="114.7" rx="21.4" ry="4" fill="none" stroke="#b8604f" stroke-width="1.2"/>
<ellipse cx="626.1" cy="119.2" rx="21.4" ry="4" fill="none" stroke="#c07263" stroke-width="0.7"/>
<line x1="604.7" y1="123.7" x2="604.7" y2="114.7" stroke="#b8604f" stroke-width="0.9" />
<line x1="606.3" y1="125.0" x2="606.3" y2="116.0" stroke="#b8604f" stroke-width="0.9" />
<line x1="611.0" y1="126.2" x2="611.0" y2="117.2" stroke="#b8604f" stroke-width="0.9" />
<line x1="617.9" y1="127.0" x2="617.9" y2="118.0" stroke="#b8604f" stroke-width="0.9" />
<line x1="626.1" y1="127.3" x2="626.1" y2="118.3" stroke="#b8604f" stroke-width="0.9" />
<line x1="634.3" y1="127.0" x2="634.3" y2="118.0" stroke="#b8604f" stroke-width="0.9" />
<line x1="641.3" y1="126.2" x2="641.3" y2="117.2" stroke="#b8604f" stroke-width="0.9" />
<line x1="646.0" y1="125.0" x2="646.0" y2="116.0" stroke="#b8604f" stroke-width="0.9" />
<line x1="647.6" y1="123.7" x2="647.6" y2="114.7" stroke="#b8604f" stroke-width="0.9" />
<rect x="562.7" y="136.2" width="36.2" height="169.4" fill="url(#siloG)"/>
<ellipse cx="580.7" cy="305.5" rx="18.1" ry="4" fill="url(#siloG)"/>
<path d="M562.7,163.5 Q580.7,169.9 598.8,163.5" fill="none" stroke="#c9cacc" stroke-width="0.8" opacity="0.75"/>
<path d="M562.7,188.2 Q580.7,194.6 598.8,188.2" fill="none" stroke="#c9cacc" stroke-width="0.8" opacity="0.75"/>
<path d="M562.7,213.0 Q580.7,219.4 598.8,213.0" fill="none" stroke="#c9cacc" stroke-width="0.8" opacity="0.75"/>
<path d="M562.7,238.8 Q580.7,245.2 598.8,238.8" fill="none" stroke="#c9cacc" stroke-width="0.8" opacity="0.75"/>
<path d="M562.7,264.6 Q580.7,271.0 598.8,264.6" fill="none" stroke="#c9cacc" stroke-width="0.8" opacity="0.75"/>
<path d="M562.7,290.4 Q580.7,296.8 598.8,290.4" fill="none" stroke="#c9cacc" stroke-width="0.8" opacity="0.75"/>
<ellipse cx="580.7" cy="136.2" rx="18.1" ry="4" fill="#c4c5c7"/>
<ellipse cx="580.7" cy="135.2" rx="15.1" ry="3" fill="#d6d7d9"/>
<ellipse cx="580.7" cy="127.2" rx="19.1" ry="4" fill="none" stroke="#b8604f" stroke-width="1.2"/>
<ellipse cx="580.7" cy="131.7" rx="19.1" ry="4" fill="none" stroke="#c07263" stroke-width="0.7"/>
<line x1="561.7" y1="136.2" x2="561.7" y2="127.2" stroke="#b8604f" stroke-width="0.9" />
<line x1="563.1" y1="137.5" x2="563.1" y2="128.5" stroke="#b8604f" stroke-width="0.9" />
<line x1="567.2" y1="138.7" x2="567.2" y2="129.7" stroke="#b8604f" stroke-width="0.9" />
<line x1="573.4" y1="139.5" x2="573.4" y2="130.5" stroke="#b8604f" stroke-width="0.9" />
<line x1="580.7" y1="139.8" x2="580.7" y2="130.8" stroke="#b8604f" stroke-width="0.9" />
<line x1="588.0" y1="139.5" x2="588.0" y2="130.5" stroke="#b8604f" stroke-width="0.9" />
<line x1="594.2" y1="138.7" x2="594.2" y2="129.7" stroke="#b8604f" stroke-width="0.9" />
<line x1="598.4" y1="137.5" x2="598.4" y2="128.5" stroke="#b8604f" stroke-width="0.9" />
<line x1="599.8" y1="136.2" x2="599.8" y2="127.2" stroke="#b8604f" stroke-width="0.9" />
<rect x="644.4" y="127.5" width="41.3" height="179.0" fill="url(#siloG)"/>
<ellipse cx="665.1" cy="306.6" rx="20.7" ry="4" fill="url(#siloG)"/>
<path d="M644.4,162.4 Q665.1,168.8 685.7,162.4" fill="none" stroke="#c9cacc" stroke-width="0.8" opacity="0.75"/>
<path d="M644.4,188.2 Q665.1,194.6 685.7,188.2" fill="none" stroke="#c9cacc" stroke-width="0.8" opacity="0.75"/>
<path d="M644.4,214.1 Q665.1,220.5 685.7,214.1" fill="none" stroke="#c9cacc" stroke-width="0.8" opacity="0.75"/>
<path d="M644.4,239.9 Q665.1,246.3 685.7,239.9" fill="none" stroke="#c9cacc" stroke-width="0.8" opacity="0.75"/>
<path d="M644.4,265.7 Q665.1,272.1 685.7,265.7" fill="none" stroke="#c9cacc" stroke-width="0.8" opacity="0.75"/>
<path d="M644.4,291.5 Q665.1,297.9 685.7,291.5" fill="none" stroke="#c9cacc" stroke-width="0.8" opacity="0.75"/>
<ellipse cx="665.1" cy="127.5" rx="20.7" ry="4" fill="#c4c5c7"/>
<ellipse cx="665.1" cy="126.5" rx="17.7" ry="3" fill="#d6d7d9"/>
<ellipse cx="665.1" cy="118.5" rx="21.7" ry="4" fill="none" stroke="#b8604f" stroke-width="1.2"/>
<ellipse cx="665.1" cy="123.0" rx="21.7" ry="4" fill="none" stroke="#c07263" stroke-width="0.7"/>
<line x1="643.4" y1="127.5" x2="643.4" y2="118.5" stroke="#b8604f" stroke-width="0.9" />
<line x1="645.1" y1="128.9" x2="645.1" y2="119.9" stroke="#b8604f" stroke-width="0.9" />
<line x1="649.8" y1="130.1" x2="649.8" y2="121.1" stroke="#b8604f" stroke-width="0.9" />
<line x1="656.8" y1="130.9" x2="656.8" y2="121.9" stroke="#b8604f" stroke-width="0.9" />
<line x1="665.1" y1="131.1" x2="665.1" y2="122.1" stroke="#b8604f" stroke-width="0.9" />
<line x1="673.4" y1="130.9" x2="673.4" y2="121.9" stroke="#b8604f" stroke-width="0.9" />
<line x1="680.4" y1="130.1" x2="680.4" y2="121.1" stroke="#b8604f" stroke-width="0.9" />
<line x1="685.1" y1="128.9" x2="685.1" y2="119.9" stroke="#b8604f" stroke-width="0.9" />
<line x1="686.7" y1="127.5" x2="686.7" y2="118.5" stroke="#b8604f" stroke-width="0.9" />
<rect x="595.4" y="145.6" width="41.5" height="169.1" fill="url(#siloG)"/>
<ellipse cx="616.1" cy="314.8" rx="20.8" ry="4" fill="url(#siloG)"/>
<path d="M595.4,169.9 Q616.1,176.3 636.9,169.9" fill="none" stroke="#c9cacc" stroke-width="0.8" opacity="0.75"/>
<path d="M595.4,195.8 Q616.1,202.2 636.9,195.8" fill="none" stroke="#c9cacc" stroke-width="0.8" opacity="0.75"/>
<path d="M595.4,221.6 Q616.1,228.0 636.9,221.6" fill="none" stroke="#c9cacc" stroke-width="0.8" opacity="0.75"/>
<path d="M595.4,248.5 Q616.1,254.9 636.9,248.5" fill="none" stroke="#c9cacc" stroke-width="0.8" opacity="0.75"/>
<path d="M595.4,274.3 Q616.1,280.7 636.9,274.3" fill="none" stroke="#c9cacc" stroke-width="0.8" opacity="0.75"/>
<path d="M595.4,300.1 Q616.1,306.5 636.9,300.1" fill="none" stroke="#c9cacc" stroke-width="0.8" opacity="0.75"/>
<ellipse cx="616.1" cy="145.6" rx="20.8" ry="4" fill="#c4c5c7"/>
<ellipse cx="616.1" cy="144.6" rx="17.8" ry="3" fill="#d6d7d9"/>
<ellipse cx="616.1" cy="136.6" rx="21.8" ry="4" fill="none" stroke="#b8604f" stroke-width="1.2"/>
<ellipse cx="616.1" cy="141.1" rx="21.8" ry="4" fill="none" stroke="#c07263" stroke-width="0.7"/>
<line x1="594.4" y1="145.6" x2="594.4" y2="136.6" stroke="#b8604f" stroke-width="0.9" />
<line x1="596.0" y1="147.0" x2="596.0" y2="138.0" stroke="#b8604f" stroke-width="0.9" />
<line x1="600.7" y1="148.2" x2="600.7" y2="139.2" stroke="#b8604f" stroke-width="0.9" />
<line x1="607.8" y1="148.9" x2="607.8" y2="139.9" stroke="#b8604f" stroke-width="0.9" />
<line x1="616.1" y1="149.2" x2="616.1" y2="140.2" stroke="#b8604f" stroke-width="0.9" />
<line x1="624.5" y1="148.9" x2="624.5" y2="139.9" stroke="#b8604f" stroke-width="0.9" />
<line x1="631.5" y1="148.2" x2="631.5" y2="139.2" stroke="#b8604f" stroke-width="0.9" />
<line x1="636.2" y1="147.0" x2="636.2" y2="138.0" stroke="#b8604f" stroke-width="0.9" />
<line x1="637.9" y1="145.6" x2="637.9" y2="136.6" stroke="#b8604f" stroke-width="0.9" />
<rect x="596.0" y="151.6" width="6.0" height="8.0" fill="#9c9d9f" />
<rect x="564.8" y="145.2" width="6.0" height="8.0" fill="#9c9d9f" />
<line x1="634.3" y1="112.9" x2="634.3" y2="317.3" stroke="#c3c4c6" stroke-width="2.6" />
<line x1="633.7" y1="112.9" x2="633.7" y2="317.3" stroke="#e8e9ea" stroke-width="1" />
<line x1="637.5" y1="112.9" x2="637.5" y2="319.1" stroke="#c3c4c6" stroke-width="2.6" />
<line x1="636.9" y1="112.9" x2="636.9" y2="319.1" stroke="#e8e9ea" stroke-width="1" />
<line x1="640.8" y1="112.9" x2="640.8" y2="320.8" stroke="#c3c4c6" stroke-width="2.6" />
<line x1="640.2" y1="112.9" x2="640.2" y2="320.8" stroke="#e8e9ea" stroke-width="1" />
<line x1="644.0" y1="112.9" x2="644.0" y2="322.5" stroke="#c3c4c6" stroke-width="2.6" />
<line x1="643.4" y1="112.9" x2="643.4" y2="322.5" stroke="#e8e9ea" stroke-width="1" />
<polyline points="591.7,120.4 594.9,118.9 634.7,114.0" fill="none" stroke="#c8c9cb" stroke-width="2.2" />
<polyline points="644.4,117.2 666.0,119.4 668.1,123.7" fill="none" stroke="#c8c9cb" stroke-width="2.2" />
<path d="M511.0,296.9 C530.4,294.7 541.1,306.6 551.9,298.0 S562.7,289.4 569.1,290.4" fill="none" stroke="#7c7d80" stroke-width="2.2"/>
<path d="M512.1,300.1 C532.5,306.6 541.1,328.1 556.2,322.7 S590.6,299.1 603.5,296.9" fill="none" stroke="#7c7d80" stroke-width="2.2"/>
<circle cx="569.1" cy="290.4" r="3" fill="#55565a"/>
<circle cx="604.0" cy="296.9" r="3" fill="#55565a"/>
<polygon points="466.7,264.8 491.0,256.7 509.6,276.4 511.3,292.6 494.5,297.8 467.8,278.7" fill="#c9c9ca" />
<polygon points="491.0,256.7 509.6,276.4 511.3,292.6 504.9,294.9 494.5,278.7" fill="#b9b9bb" />
<rect x="465.3" y="255.3" width="29.2" height="25.7" rx="6" fill="#d6d6d7"/>
<rect x="467.3" y="257.3" width="23.2" height="17.7" rx="5" fill="#e0e0e1"/>
<polygon points="478.3,282.2 482.9,281.6 493.3,292.6 489.9,294.9" fill="#2a2a2c" />
<line x1="483.5" y1="285.7" x2="483.5" y2="301.9" stroke="#c4c4c6" stroke-width="1.2" />
<polygon points="467.8,329.7 477.1,305.4 481.7,297.2 511.9,297.2 513.0,311.2 484.1,334.3" fill="#d8312b" />
<polygon points="475.9,303.0 498.0,300.7 504.9,310.0 479.4,311.2" fill="#e6e6e7" />
<polygon points="474.8,310.0 511.9,310.0 512.5,321.6 475.4,322.8" fill="#efefef" />
<polygon points="475.9,320.4 511.9,319.3 512.5,321.6 476.5,322.8" fill="#e0352f" />
<polygon points="484.1,321.6 512.5,320.4 512.8,330.9 485.2,332.0" fill="#252527" />
<polygon points="480.0,321.6 484.1,321.6 485.2,332.0 481.7,332.0" fill="#3a3a3c" />
<polygon points="485.2,331.4 513.3,330.3 514.2,345.4 486.4,345.9" fill="#e0352f" />
<line x1="486.4" y1="334.9" x2="513.6" y2="334.0" stroke="#b72a25" stroke-width="0.8" />
<line x1="486.4" y1="337.8" x2="513.6" y2="336.9" stroke="#b72a25" stroke-width="0.8" />
<line x1="486.4" y1="340.7" x2="513.6" y2="339.8" stroke="#b72a25" stroke-width="0.8" />
<line x1="486.4" y1="343.6" x2="513.6" y2="342.7" stroke="#b72a25" stroke-width="0.8" />
<polygon points="486.4,345.4 514.2,344.2 514.2,349.4 487.0,350.6" fill="#e4e4e4" />
<polygon points="474.8,322.8 485.2,332.0 486.4,345.9 478.3,341.3" fill="#d8312b" />
<polygon points="511.9,299.6 520.0,307.7 520.0,329.7 512.8,327.4" fill="#e8e8e9" opacity="0.8"/>
<ellipse cx="467.8" cy="334.3" rx="2.6" ry="4.4" fill="#333335"/>
<ellipse cx="468.4" cy="334.3" rx="1.2" ry="2.3" fill="#b0b0b2"/>
<ellipse cx="471.9" cy="337.2" rx="2.6" ry="4.4" fill="#333335"/>
<ellipse cx="472.5" cy="337.2" rx="1.2" ry="2.3" fill="#b0b0b2"/>
<ellipse cx="481.2" cy="344.2" rx="2.6" ry="4.4" fill="#333335"/>
<ellipse cx="481.8" cy="344.2" rx="1.2" ry="2.3" fill="#b0b0b2"/>
<line x1="638.5" y1="319.5" x2="734.1" y2="340.9" stroke="#c9cacc" stroke-width="1.3" />
<line x1="641.3" y1="319.8" x2="733.2" y2="341.5" stroke="#c9cacc" stroke-width="1.3" />
<line x1="644.1" y1="320.2" x2="732.2" y2="342.1" stroke="#c9cacc" stroke-width="1.3" />
<line x1="647.0" y1="320.5" x2="731.3" y2="342.8" stroke="#c9cacc" stroke-width="1.3" />
<polygon points="712.0,340.1 746.8,342.5 745.2,346.4 718.3,344.8" fill="#9fa0a3" />
<ellipse cx="1010" cy="405" rx="105" ry="18" fill="url(#shadowG)"/>
<polygon points="1048.4,198.0 1060.0,198.0 1062.3,371.9 1050.7,371.9" fill="#cfdbe6" opacity="0.75"/>
<polygon points="993.9,218.8 1005.5,218.8 1006.7,383.5 995.1,383.5" fill="#c9d6e2" opacity="0.8"/>
<defs><linearGradient id="colG" x1="0" y1="0" x2="1" y2="0"><stop offset="0" stop-color="#c4c5c7"/><stop offset="0.4" stop-color="#e6e7e8"/><stop offset="1" stop-color="#b7b8ba"/></linearGradient></defs>
<line x1="923.6" y1="301.0" x2="969.6" y2="289.9" stroke="#c6c7c9" stroke-width="2.2" />
<line x1="923.6" y1="306.0" x2="969.6" y2="294.8" stroke="#c6c7c9" stroke-width="2.2" />
<line x1="1019.2" y1="284.9" x2="1062.7" y2="298.6" stroke="#bfc0c2" stroke-width="1.6" />
<line x1="1019.2" y1="292.3" x2="1062.7" y2="304.8" stroke="#bfc0c2" stroke-width="1.6" />
<line x1="1020.5" y1="311.0" x2="1063.9" y2="298.6" stroke="#bfc0c2" stroke-width="1.4" />
<polygon points="991.9,288.6 1016.7,288.6 1016.7,394.1 991.9,394.1" fill="url(#colG)" />
<polygon points="994.4,282.4 1000.6,282.4 1000.6,394.1 994.4,394.1" fill="#cfdbe6" opacity="0.7"/>
<line x1="968.3" y1="288.6" x2="968.3" y2="389.2" stroke="#c3c4c6" stroke-width="1.3" />
<line x1="972.7" y1="288.6" x2="972.7" y2="389.2" stroke="#c3c4c6" stroke-width="1.3" />
<line x1="977.6" y1="288.6" x2="977.6" y2="389.2" stroke="#c3c4c6" stroke-width="1.3" />
<line x1="982.6" y1="288.6" x2="982.6" y2="389.2" stroke="#c3c4c6" stroke-width="1.3" />
<line x1="1011.8" y1="288.6" x2="1011.8" y2="389.2" stroke="#c3c4c6" stroke-width="1.3" />
<line x1="1019.2" y1="288.6" x2="1019.2" y2="389.2" stroke="#c3c4c6" stroke-width="1.3" />
<polyline points="973.4,209.6 973.4,154.9 1003.2,159.9 1003.2,214.5" fill="none" stroke="#c6c7c9" stroke-width="2.6" />
<polyline points="999.4,182.3 999.4,150.6 1029.2,154.9 1029.2,197.2" fill="none" stroke="#c6c7c9" stroke-width="2.6" />
<line x1="974.6" y1="163.6" x2="1001.9" y2="159.9" stroke="#9d9ea0" stroke-width="1" />
<line x1="1000.7" y1="168.6" x2="1028.6" y2="163.6" stroke="#9d9ea0" stroke-width="1" />
<line x1="974.6" y1="178.5" x2="1001.9" y2="174.8" stroke="#9d9ea0" stroke-width="1" />
<polygon points="987.0,182.3 1016.8,181.0 1018.1,203.4 988.3,207.1" fill="#c2c3c5" />
<polygon points="987.0,182.3 1001.9,180.4 1016.8,181.0 1001.9,184.7" fill="#dcdde0" />
<polygon points="949.1,209.0 999.4,202.1 1056.6,206.5 1004.4,217.6" fill="#dfe0e2" />
<polygon points="949.1,209.0 1004.4,217.6 1056.6,206.5 1056.6,209.6 1004.4,220.1 949.1,212.1" fill="#b9babd" />
<line x1="950.4" y1="193.4" x2="1004.4" y2="203.4" stroke="#bf6a5a" stroke-width="1.3" />
<line x1="950.4" y1="199.6" x2="1004.4" y2="209.6" stroke="#bf6a5a" stroke-width="0.9" />
<line x1="1004.4" y1="203.4" x2="1051.6" y2="192.8" stroke="#bf6a5a" stroke-width="1.3" />
<line x1="1004.4" y1="209.6" x2="1051.6" y2="199.0" stroke="#bf6a5a" stroke-width="0.9" />
<line x1="950.4" y1="193.4" x2="984.5" y2="189.1" stroke="#bf6a5a" stroke-width="1.3" />
<line x1="950.4" y1="199.6" x2="984.5" y2="195.3" stroke="#bf6a5a" stroke-width="0.9" />
<line x1="1021.8" y1="188.5" x2="1051.6" y2="192.8" stroke="#bf6a5a" stroke-width="1.3" />
<line x1="1021.8" y1="194.7" x2="1051.6" y2="199.0" stroke="#bf6a5a" stroke-width="0.9" />
<line x1="950.4" y1="193.4" x2="950.4" y2="208.3" stroke="#bf6a5a" stroke-width="1.2" />
<line x1="967.2" y1="195.9" x2="967.2" y2="210.8" stroke="#bf6a5a" stroke-width="1.2" />
<line x1="985.8" y1="199.6" x2="985.8" y2="214.5" stroke="#bf6a5a" stroke-width="1.2" />
<line x1="1004.4" y1="203.4" x2="1004.4" y2="218.3" stroke="#bf6a5a" stroke-width="1.2" />
<line x1="1020.6" y1="199.6" x2="1020.6" y2="214.5" stroke="#bf6a5a" stroke-width="1.2" />
<line x1="1034.2" y1="195.9" x2="1034.2" y2="210.8" stroke="#bf6a5a" stroke-width="1.2" />
<line x1="1051.6" y1="192.8" x2="1051.6" y2="207.7" stroke="#bf6a5a" stroke-width="1.2" />
<line x1="967.2" y1="190.9" x2="967.2" y2="205.8" stroke="#bf6a5a" stroke-width="1.2" />
<line x1="984.5" y1="189.1" x2="984.5" y2="204.0" stroke="#bf6a5a" stroke-width="1.2" />
<line x1="1021.8" y1="188.5" x2="1021.8" y2="203.4" stroke="#bf6a5a" stroke-width="1.2" />
<line x1="1034.2" y1="190.3" x2="1034.2" y2="205.2" stroke="#bf6a5a" stroke-width="1.2" />
<line x1="948.7" y1="209.6" x2="948.7" y2="406.7" stroke="#c6c7c9" stroke-width="3.8" /><line x1="947.7" y1="209.6" x2="947.7" y2="406.7" stroke="#e4e5e6" stroke-width="1.3299999999999998" />
<line x1="1002.0" y1="216.5" x2="1002.0" y2="409.0" stroke="#c6c7c9" stroke-width="4.0" /><line x1="1001.0" y1="216.5" x2="1001.0" y2="409.0" stroke="#e4e5e6" stroke-width="1.4" />
<line x1="1054.2" y1="207.2" x2="1054.2" y2="395.1" stroke="#c6c7c9" stroke-width="3.4" /><line x1="1053.4" y1="207.2" x2="1053.4" y2="395.1" stroke="#e4e5e6" stroke-width="1.19" />
<line x1="924.3" y1="300.0" x2="924.3" y2="385.8" stroke="#c6c7c9" stroke-width="3.0" /><line x1="923.6" y1="300.0" x2="923.6" y2="385.8" stroke="#e4e5e6" stroke-width="1.0499999999999998" />
<line x1="1020.6" y1="218.8" x2="1020.6" y2="399.7" stroke="#c6c7c9" stroke-width="2.4" /><line x1="1020.0" y1="218.8" x2="1020.0" y2="399.7" stroke="#e4e5e6" stroke-width="0.84" />
<line x1="976.5" y1="283.8" x2="976.5" y2="390.4" stroke="#c6c7c9" stroke-width="2.4" /><line x1="975.9" y1="283.8" x2="975.9" y2="390.4" stroke="#e4e5e6" stroke-width="0.84" />
<line x1="926.7" y1="302.3" x2="948.7" y2="272.2" stroke="#c6c7c9" stroke-width="2.6" />
<line x1="969.6" y1="300.0" x2="985.8" y2="279.1" stroke="#c6c7c9" stroke-width="2.6" />
<line x1="1020.6" y1="286.1" x2="1048.4" y2="302.3" stroke="#c6c7c9" stroke-width="2.0" />
<polygon points="951.0,269.9 1002.0,260.6 1057.7,272.2 1004.3,281.4" fill="#dfe0e2" />
<polygon points="951.0,269.9 1004.3,281.4 1057.7,272.2 1057.7,275.7 1004.3,284.9 951.0,273.3" fill="#b9babd" />
<line x1="952.2" y1="251.3" x2="1004.3" y2="261.7" stroke="#bf6a5a" stroke-width="1.3" />
<line x1="952.2" y1="258.3" x2="1004.3" y2="268.7" stroke="#bf6a5a" stroke-width="0.9" />
<line x1="1004.3" y1="261.7" x2="1048.4" y2="251.3" stroke="#bf6a5a" stroke-width="1.3" />
<line x1="1004.3" y1="268.7" x2="1048.4" y2="258.3" stroke="#bf6a5a" stroke-width="0.9" />
<line x1="952.2" y1="251.3" x2="997.4" y2="244.3" stroke="#bf6a5a" stroke-width="1.3" />
<line x1="952.2" y1="258.3" x2="997.4" y2="251.3" stroke="#bf6a5a" stroke-width="0.9" />
<line x1="1011.3" y1="243.2" x2="1048.4" y2="251.3" stroke="#bf6a5a" stroke-width="1.3" />
<line x1="1011.3" y1="250.1" x2="1048.4" y2="258.3" stroke="#bf6a5a" stroke-width="0.9" />
<line x1="952.2" y1="251.3" x2="952.2" y2="267.5" stroke="#bf6a5a" stroke-width="1.2" />
<line x1="967.2" y1="254.1" x2="967.2" y2="270.3" stroke="#bf6a5a" stroke-width="1.2" />
<line x1="985.8" y1="258.3" x2="985.8" y2="274.5" stroke="#bf6a5a" stroke-width="1.2" />
<line x1="1004.3" y1="261.7" x2="1004.3" y2="278.0" stroke="#bf6a5a" stroke-width="1.2" />
<line x1="1018.3" y1="258.7" x2="1018.3" y2="275.0" stroke="#bf6a5a" stroke-width="1.2" />
<line x1="1034.5" y1="254.8" x2="1034.5" y2="271.0" stroke="#bf6a5a" stroke-width="1.2" />
<line x1="1048.4" y1="251.3" x2="1048.4" y2="267.5" stroke="#bf6a5a" stroke-width="1.2" />
<line x1="997.4" y1="244.3" x2="997.4" y2="260.6" stroke="#bf6a5a" stroke-width="1.2" />
<line x1="1011.3" y1="243.2" x2="1011.3" y2="259.4" stroke="#bf6a5a" stroke-width="1.2" />
<polygon points="923.2,325.5 1002.0,313.9 1083.2,334.8 1004.3,344.1" fill="#e0e1e3" />
<polygon points="923.2,325.5 1004.3,344.1 1083.2,334.8 1083.2,339.4 1004.3,348.7 923.2,330.1" fill="#bcbdc0" />
<line x1="951.0" y1="312.8" x2="1004.3" y2="324.3" stroke="#bf6a5a" stroke-width="1.3" />
<line x1="951.0" y1="320.9" x2="1004.3" y2="332.5" stroke="#bf6a5a" stroke-width="0.9" />
<line x1="1004.3" y1="324.3" x2="1048.4" y2="313.9" stroke="#bf6a5a" stroke-width="1.3" />
<line x1="1004.3" y1="332.5" x2="1048.4" y2="322.0" stroke="#bf6a5a" stroke-width="0.9" />
<line x1="951.0" y1="312.8" x2="997.4" y2="305.8" stroke="#bf6a5a" stroke-width="1.3" />
<line x1="951.0" y1="320.9" x2="997.4" y2="313.9" stroke="#bf6a5a" stroke-width="0.9" />
<line x1="1011.3" y1="305.8" x2="1048.4" y2="313.9" stroke="#bf6a5a" stroke-width="1.3" />
<line x1="1011.3" y1="313.9" x2="1048.4" y2="322.0" stroke="#bf6a5a" stroke-width="0.9" />
<line x1="951.0" y1="312.8" x2="951.0" y2="330.1" stroke="#bf6a5a" stroke-width="1.2" />
<line x1="967.2" y1="316.2" x2="967.2" y2="333.6" stroke="#bf6a5a" stroke-width="1.2" />
<line x1="985.8" y1="320.4" x2="985.8" y2="337.8" stroke="#bf6a5a" stroke-width="1.2" />
<line x1="1004.3" y1="324.3" x2="1004.3" y2="341.7" stroke="#bf6a5a" stroke-width="1.2" />
<line x1="1018.3" y1="321.3" x2="1018.3" y2="338.7" stroke="#bf6a5a" stroke-width="1.2" />
<line x1="1034.5" y1="317.4" x2="1034.5" y2="334.8" stroke="#bf6a5a" stroke-width="1.2" />
<line x1="1048.4" y1="313.9" x2="1048.4" y2="331.3" stroke="#bf6a5a" stroke-width="1.2" />
<line x1="997.4" y1="305.8" x2="997.4" y2="323.2" stroke="#bf6a5a" stroke-width="1.2" />
<line x1="1011.3" y1="305.8" x2="1011.3" y2="323.2" stroke="#bf6a5a" stroke-width="1.2" />
<defs><linearGradient id="cylG" x1="0" y1="0" x2="0" y2="1"><stop offset="0" stop-color="#dcdddf"/><stop offset="0.45" stop-color="#b9babc"/><stop offset="1" stop-color="#8d8e91"/></linearGradient></defs>
<polygon points="983.2,389.2 1014.2,386.7 1016.7,405.3 984.5,406.6" fill="#d3d4d6" />
<polygon points="983.2,389.2 999.4,386.1 1014.2,386.7 999.4,389.8" fill="#e6e7e8" />
<polygon points="933.6,365.6 942.2,365.6 938.9,374.3 936.9,374.3" fill="#d0d1d3" />
<ellipse cx="937.9" cy="365.6" rx="4.3" ry="1.5" fill="#e9eaeb"/>
<polygon points="946.0,383.0 953.4,383.0 950.6,390.4 948.8,390.4" fill="#d0d1d3" />
<ellipse cx="949.7" cy="383.0" rx="3.7" ry="1.5" fill="#e9eaeb"/>
<polygon points="962.7,358.8 968.9,358.8 966.6,367.5 965.1,367.5" fill="#d0d1d3" />
<ellipse cx="965.8" cy="358.8" rx="3.1" ry="1.5" fill="#e9eaeb"/>
<polygon points="969.6,374.3 985.7,373.0 986.3,389.2 970.2,390.4" fill="#5c5d60" />
<ellipse cx="963.3" cy="373.0" rx="6.5" ry="5" fill="#b3b4b6"/>
<polygon points="957.1,369.3 974.5,368.1 974.5,378.0 958.4,379.2" fill="#c3c4c6" />
<g transform="translate(918.7,392.3) rotate(-2.60)"><rect x="0" y="-4.0" width="27.3" height="8.0" fill="url(#cylG)"/><ellipse cx="0" cy="0" rx="2.0" ry="4.0" fill="#a4a5a7"/></g>
<g transform="translate(939.8,401.6) rotate(-11.77)"><rect x="0" y="-4.2" width="45.7" height="8.4" fill="url(#cylG)"/><ellipse cx="0" cy="0" rx="2.1" ry="4.2" fill="#a4a5a7"/></g>
<g transform="translate(946.0,389.2) rotate(-6.79)"><rect x="0" y="-3.0" width="26.3" height="6.0" fill="url(#cylG)"/><ellipse cx="0" cy="0" rx="1.5" ry="3.0" fill="#a4a5a7"/></g>
<polygon points="923.6,384.8 946.0,384.2 946.0,386.7 923.6,387.3" fill="#cfd0d2" />
<polygon points="1015.5,380.5 1031.6,382.4 1031.6,407.8 1016.1,405.3" fill="#dcdddf" />
<line x1="1016.7" y1="383.0" x2="1031.0" y2="384.5" stroke="#a9aaac" stroke-width="0.8" />
<line x1="1016.7" y1="385.2" x2="1031.0" y2="386.7" stroke="#a9aaac" stroke-width="0.8" />
<line x1="1016.7" y1="387.4" x2="1031.0" y2="388.9" stroke="#a9aaac" stroke-width="0.8" />
<line x1="1016.7" y1="389.7" x2="1031.0" y2="391.2" stroke="#a9aaac" stroke-width="0.8" />
<line x1="1016.7" y1="391.9" x2="1031.0" y2="393.4" stroke="#a9aaac" stroke-width="0.8" />
<line x1="1016.7" y1="394.1" x2="1031.0" y2="395.6" stroke="#a9aaac" stroke-width="0.8" />
<line x1="1016.7" y1="396.4" x2="1031.0" y2="397.9" stroke="#a9aaac" stroke-width="0.8" />
<line x1="1016.7" y1="398.6" x2="1031.0" y2="400.1" stroke="#a9aaac" stroke-width="0.8" />
<line x1="1016.7" y1="400.9" x2="1031.0" y2="402.3" stroke="#a9aaac" stroke-width="0.8" />
<line x1="1016.7" y1="403.1" x2="1031.0" y2="404.6" stroke="#a9aaac" stroke-width="0.8" />
<polygon points="1031.6,382.4 1036.6,381.7 1036.6,409.0 1031.6,407.8" fill="#c9cacc" />
<polygon points="1040.3,373.0 1045.3,373.0 1045.3,409.7 1040.3,409.0" fill="#bd7766" />
<line x1="1045.3" y1="373.0" x2="1067.6" y2="369.3" stroke="#b9bcc0" stroke-width="2.4" />
<line x1="1045.3" y1="379.2" x2="1067.6" y2="376.8" stroke="#b9bcc0" stroke-width="2.4" />
<polygon points="1066.4,368.1 1071.4,367.5 1072.0,384.2 1067.0,384.8" fill="#bd7766" />
<polygon points="1051.5,386.1 1065.1,384.8 1065.8,417.7 1052.1,418.4" fill="#bd7766" />
<polygon points="1065.1,384.8 1070.1,386.1 1070.1,416.5 1065.8,417.7" fill="#a6604f" />
<polygon points="1052.7,395.4 1057.7,394.8 1057.7,401.6 1052.7,402.2" fill="#4e6472" />
<polygon points="1080.0,373.0 1117.3,378.0 1117.3,410.3 1080.0,405.3" fill="#dcdfe3" opacity="0.9"/>
<polyline points="1080.0,406.6 1080.0,373.0 1117.3,378.0 1117.3,411.5" fill="none" stroke="#b9babc" stroke-width="1.3" />
<g transform="rotate(-10 1097.4 401.6)"><rect x="1087.5" y="396.6" width="21" height="11" rx="5" fill="#dce7f1"/><ellipse cx="1088.7" cy="402.3" rx="3" ry="5.5" fill="#c7d6e4"/></g>
<ellipse cx="1600" cy="445" rx="150" ry="18" fill="url(#shadowG)"/>
<ellipse cx="1455" cy="405" rx="60" ry="12" fill="url(#shadowG)"/>
<line x1="1401.8" y1="367.1" x2="1401.8" y2="403.1" stroke="#c9cacc" stroke-width="3" />
<line x1="1401.4" y1="367.1" x2="1401.4" y2="403.1" stroke="#e6e7e8" stroke-width="1" />
<line x1="1428.6" y1="367.1" x2="1428.6" y2="403.1" stroke="#c9cacc" stroke-width="3" />
<line x1="1428.2" y1="367.1" x2="1428.2" y2="403.1" stroke="#e6e7e8" stroke-width="1" />
<line x1="1445.3" y1="367.1" x2="1445.3" y2="403.1" stroke="#c9cacc" stroke-width="3" />
<line x1="1445.0" y1="367.1" x2="1445.0" y2="403.1" stroke="#e6e7e8" stroke-width="1" />
<line x1="1455.4" y1="367.1" x2="1455.4" y2="403.1" stroke="#c9cacc" stroke-width="3" />
<line x1="1455.0" y1="367.1" x2="1455.0" y2="403.1" stroke="#e6e7e8" stroke-width="1" />
<line x1="1467.1" y1="367.1" x2="1467.1" y2="403.1" stroke="#c9cacc" stroke-width="3" />
<line x1="1466.7" y1="367.1" x2="1466.7" y2="403.1" stroke="#e6e7e8" stroke-width="1" />
<line x1="1490.5" y1="367.1" x2="1490.5" y2="403.1" stroke="#c9cacc" stroke-width="3" />
<line x1="1490.2" y1="367.1" x2="1490.2" y2="403.1" stroke="#e6e7e8" stroke-width="1" />
<polygon points="1392.6,364.6 1425.2,347.0 1480.5,342.8 1527.4,361.2 1495.5,373.8 1435.3,373.8" fill="#e3e4e6" />
<polygon points="1392.6,364.6 1435.3,373.8 1495.5,373.8 1527.4,361.2 1527.4,363.7 1495.5,376.8 1435.3,376.8 1392.6,367.1" fill="#bdbec1" />
<polyline points="1393.4,354.5 1425.2,343.6 1480.5,339.4 1525.7,352.0" fill="none" stroke="#c06c5c" stroke-width="1.2" />
<polyline points="1393.4,359.5 1425.2,348.6 1480.5,344.4 1525.7,357.0" fill="none" stroke="#c06c5c" stroke-width="0.8" />
<polyline points="1435.3,363.7 1495.5,363.7 1525.7,352.0" fill="none" stroke="#c06c5c" stroke-width="1.2" />
<polyline points="1435.3,368.7 1495.5,368.7 1525.7,357.0" fill="none" stroke="#c06c5c" stroke-width="0.8" />
<line x1="1393.4" y1="354.5" x2="1393.4" y2="364.6" stroke="#c06c5c" stroke-width="1.0" />
<line x1="1403.4" y1="351.2" x2="1403.4" y2="361.2" stroke="#c06c5c" stroke-width="1.0" />
<line x1="1413.5" y1="347.8" x2="1413.5" y2="357.9" stroke="#c06c5c" stroke-width="1.0" />
<line x1="1425.2" y1="343.6" x2="1425.2" y2="353.7" stroke="#c06c5c" stroke-width="1.0" />
<line x1="1443.6" y1="342.3" x2="1443.6" y2="352.3" stroke="#c06c5c" stroke-width="1.0" />
<line x1="1460.4" y1="341.1" x2="1460.4" y2="351.2" stroke="#c06c5c" stroke-width="1.0" />
<line x1="1480.5" y1="339.4" x2="1480.5" y2="349.5" stroke="#c06c5c" stroke-width="1.0" />
<line x1="1495.5" y1="343.6" x2="1495.5" y2="353.7" stroke="#c06c5c" stroke-width="1.0" />
<line x1="1510.6" y1="347.8" x2="1510.6" y2="357.9" stroke="#c06c5c" stroke-width="1.0" />
<line x1="1525.7" y1="352.0" x2="1525.7" y2="362.0" stroke="#c06c5c" stroke-width="1.0" />
<line x1="1435.3" y1="363.7" x2="1435.3" y2="373.8" stroke="#c06c5c" stroke-width="1.0" />
<line x1="1450.3" y1="363.7" x2="1450.3" y2="373.8" stroke="#c06c5c" stroke-width="1.0" />
<line x1="1465.4" y1="363.7" x2="1465.4" y2="373.8" stroke="#c06c5c" stroke-width="1.0" />
<line x1="1480.5" y1="363.7" x2="1480.5" y2="373.8" stroke="#c06c5c" stroke-width="1.0" />
<line x1="1495.5" y1="363.7" x2="1495.5" y2="373.8" stroke="#c06c5c" stroke-width="1.0" />
<line x1="1510.6" y1="357.9" x2="1510.6" y2="367.9" stroke="#c06c5c" stroke-width="1.0" />
<line x1="1429.4" y1="325.2" x2="1429.4" y2="358.7" stroke="#c9cacc" stroke-width="3.2" />
<line x1="1441.1" y1="325.2" x2="1441.1" y2="358.7" stroke="#c9cacc" stroke-width="3.2" />
<line x1="1448.7" y1="325.2" x2="1448.7" y2="358.7" stroke="#c9cacc" stroke-width="3.2" />
<line x1="1458.7" y1="325.2" x2="1458.7" y2="358.7" stroke="#c9cacc" stroke-width="3.2" />
<polygon points="1425.2,324.4 1445.3,321.0 1465.4,323.9 1447.0,327.7" fill="#e3e4e6" />
<polygon points="1425.2,324.4 1447.0,327.7 1465.4,323.9 1465.4,325.5 1447.0,329.6 1425.2,326.2" fill="#bdbec1" />
<polyline points="1428.6,316.0 1445.3,313.2 1462.9,316.0 1447.0,319.9 1428.6,316.0" fill="none" stroke="#c06c5c" stroke-width="1.1" />
<line x1="1428.6" y1="316.0" x2="1428.6" y2="324.4" stroke="#c06c5c" stroke-width="0.9" />
<line x1="1436.9" y1="317.7" x2="1436.9" y2="326.0" stroke="#c06c5c" stroke-width="0.9" />
<line x1="1447.0" y1="319.9" x2="1447.0" y2="328.2" stroke="#c06c5c" stroke-width="0.9" />
<line x1="1455.4" y1="318.2" x2="1455.4" y2="326.6" stroke="#c06c5c" stroke-width="0.9" />
<line x1="1462.9" y1="316.0" x2="1462.9" y2="324.4" stroke="#c06c5c" stroke-width="0.9" />
<line x1="1445.3" y1="313.2" x2="1445.3" y2="321.5" stroke="#c06c5c" stroke-width="0.9" />
<defs><linearGradient id="hopG" x1="0" y1="0" x2="1" y2="0"><stop offset="0" stop-color="#4e4f52"/><stop offset="0.5" stop-color="#8a8b8e"/><stop offset="1" stop-color="#505154"/></linearGradient></defs>
<rect x="1441.6" y="297.6" width="8.4" height="26.3" fill="url(#hopG)" />
<ellipse cx="1445.8" cy="297.6" rx="4.2" ry="1.5" fill="#8fa0b3"/>
<line x1="1446.1" y1="323.9" x2="1446.1" y2="352.0" stroke="#a7a8aa" stroke-width="2.5" />
<g transform="rotate(14 1460.4 356.2)">
<rect x="1433.6" y="352.0" width="50.0" height="8.0" fill="#a4a5a8" rx="4"/>
<rect x="1433.6" y="352.0" width="50.0" height="3.0" fill="#d0d1d3" rx="1.5"/>
</g>
<g transform="rotate(22 1487.2 353.7)">
<rect x="1470.4" y="350.3" width="36.0" height="7.0" fill="#a4a5a8" rx="3.5"/>
<rect x="1470.4" y="350.3" width="36.0" height="3.0" fill="#d0d1d3" rx="1.5"/>
</g>
<polygon points="1495.5,346.1 1503.1,343.6 1504.7,353.7 1497.2,359.5" fill="#b3b4b6" />
<polygon points="1473.8,342.8 1478.8,342.3 1477.1,350.3 1475.4,350.3" fill="#c9cacc" />
<polygon points="1499.2,342.8 1504.2,342.3 1502.6,347.8 1500.9,347.8" fill="#c9cacc" />
<line x1="1396.7" y1="400.6" x2="1413.5" y2="360.4" stroke="#c06c5c" stroke-width="1.3" />
<line x1="1406.8" y1="402.2" x2="1424.4" y2="362.0" stroke="#c06c5c" stroke-width="1.3" />
<line x1="1396.7" y1="400.6" x2="1406.8" y2="402.2" stroke="#b4b5b7" stroke-width="0.9" />
<line x1="1398.3" y1="396.9" x2="1408.4" y2="398.6" stroke="#b4b5b7" stroke-width="0.9" />
<line x1="1399.8" y1="393.3" x2="1410.0" y2="394.9" stroke="#b4b5b7" stroke-width="0.9" />
<line x1="1401.3" y1="389.6" x2="1411.6" y2="391.3" stroke="#b4b5b7" stroke-width="0.9" />
<line x1="1402.8" y1="385.9" x2="1413.2" y2="387.6" stroke="#b4b5b7" stroke-width="0.9" />
<line x1="1404.4" y1="382.3" x2="1414.8" y2="384.0" stroke="#b4b5b7" stroke-width="0.9" />
<line x1="1405.9" y1="378.6" x2="1416.4" y2="380.3" stroke="#b4b5b7" stroke-width="0.9" />
<line x1="1407.4" y1="375.0" x2="1418.0" y2="376.7" stroke="#b4b5b7" stroke-width="0.9" />
<line x1="1408.9" y1="371.3" x2="1419.6" y2="373.0" stroke="#b4b5b7" stroke-width="0.9" />
<line x1="1410.4" y1="367.7" x2="1421.2" y2="369.4" stroke="#b4b5b7" stroke-width="0.9" />
<line x1="1412.0" y1="364.0" x2="1422.8" y2="365.7" stroke="#b4b5b7" stroke-width="0.9" />
<line x1="1413.5" y1="360.4" x2="1424.4" y2="362.0" stroke="#b4b5b7" stroke-width="0.9" />
<polygon points="1497.0,367.4 1513.3,364.0 1514.4,380.2 1500.5,384.9" fill="#e2e3e5" />
<ellipse cx="1505.1" cy="374.4" rx="9" ry="8" fill="#dfe3e8" stroke="#b9bcc0" stroke-width="0.8"/>
<polygon points="1490.0,401.2 1580.7,420.9 1637.7,431.4 1637.7,434.9 1580.7,424.4 1490.0,404.7" fill="#d5d6d8" />
<line x1="1490.0" y1="401.2" x2="1580.7" y2="420.9" stroke="#eeeeef" stroke-width="1.2" />
<polygon points="1497.0,388.4 1534.2,404.7 1534.2,407.0 1497.0,390.7" fill="#d2d3d5" />
<line x1="1542.3" y1="368.6" x2="1542.3" y2="412.8" stroke="#cdced0" stroke-width="2.6" />
<line x1="1542.2" y1="368.6" x2="1542.2" y2="412.8" stroke="#eeeff0" stroke-width="0.9" />
<line x1="1565.6" y1="373.3" x2="1565.6" y2="416.3" stroke="#cdced0" stroke-width="2.6" />
<line x1="1565.4" y1="373.3" x2="1565.4" y2="416.3" stroke="#eeeff0" stroke-width="0.9" />
<line x1="1585.3" y1="376.2" x2="1585.3" y2="420.9" stroke="#cdced0" stroke-width="2.6" />
<line x1="1585.2" y1="376.2" x2="1585.2" y2="420.9" stroke="#eeeff0" stroke-width="0.9" />
<line x1="1559.8" y1="364.0" x2="1559.8" y2="388.4" stroke="#cdced0" stroke-width="2.6" />
<line x1="1559.6" y1="364.0" x2="1559.6" y2="388.4" stroke="#eeeff0" stroke-width="0.9" />
<line x1="1612.1" y1="369.8" x2="1612.1" y2="426.7" stroke="#cdced0" stroke-width="2.6" />
<line x1="1611.9" y1="369.8" x2="1611.9" y2="426.7" stroke="#eeeff0" stroke-width="0.9" />
<line x1="1645.8" y1="374.4" x2="1645.8" y2="396.5" stroke="#cdced0" stroke-width="2.6" />
<line x1="1645.6" y1="374.4" x2="1645.6" y2="396.5" stroke="#eeeff0" stroke-width="0.9" />
<line x1="1617.9" y1="381.4" x2="1617.9" y2="427.9" stroke="#cdced0" stroke-width="2.6" />
<line x1="1617.7" y1="381.4" x2="1617.7" y2="427.9" stroke="#eeeff0" stroke-width="0.9" />
<polyline points="1541.2,368.6 1559.8,364.0 1588.8,368.6 1585.3,376.2 1541.2,368.6" fill="none" stroke="#cdced0" stroke-width="2.2" />
<polyline points="1585.3,376.2 1612.1,369.2 1647.0,374.4 1617.9,381.4 1585.3,376.2" fill="none" stroke="#cdced0" stroke-width="2.2" />
<line x1="1542.3" y1="384.9" x2="1585.3" y2="393.0" stroke="#cdced0" stroke-width="2" />
<line x1="1542.3" y1="410.5" x2="1585.3" y2="418.6" stroke="#cdced0" stroke-width="2" />
<line x1="1585.3" y1="408.1" x2="1636.5" y2="417.4" stroke="#cdced0" stroke-width="2.4" />
<line x1="1542.3" y1="384.9" x2="1585.3" y2="393.0" stroke="#cdced0" stroke-width="1.8" />
<line x1="1542.3" y1="398.8" x2="1585.3" y2="407.0" stroke="#cdced0" stroke-width="1.8" />
<line x1="1585.3" y1="396.5" x2="1636.5" y2="405.8" stroke="#cdced0" stroke-width="1.8" />
<line x1="1585.3" y1="410.5" x2="1636.5" y2="419.8" stroke="#cdced0" stroke-width="1.8" />
<line x1="1612.1" y1="384.9" x2="1645.8" y2="390.7" stroke="#cdced0" stroke-width="1.5" />
<line x1="1559.8" y1="364.0" x2="1559.8" y2="384.9" stroke="#cdced0" stroke-width="2.0" />
<line x1="1636.5" y1="383.7" x2="1636.5" y2="431.4" stroke="#cdced0" stroke-width="2.4" />
<line x1="1612.1" y1="369.2" x2="1612.1" y2="384.9" stroke="#cdced0" stroke-width="2.0" />
<line x1="1541.2" y1="368.6" x2="1559.8" y2="377.9" stroke="#cdced0" stroke-width="1.2" />
<line x1="1565.6" y1="373.3" x2="1585.3" y2="368.6" stroke="#cdced0" stroke-width="1.2" />
<line x1="1591.2" y1="400.0" x2="1635.3" y2="384.9" stroke="#cdced0" stroke-width="1.2" />
<line x1="1615.6" y1="410.5" x2="1645.8" y2="398.8" stroke="#cdced0" stroke-width="1.2" />
<polygon points="1590.0,398.8 1635.3,408.1 1635.3,415.1 1590.0,405.8" fill="#d6e2ec" opacity="0.8"/>
<polygon points="1542.3,379.1 1583.0,384.9 1583.0,389.5 1542.3,383.7" fill="#d6e2ec" opacity="0.8"/>
<line x1="1516.7" y1="387.2" x2="1529.5" y2="384.9" stroke="#404144" stroke-width="3.6" />
<line x1="1534.2" y1="383.7" x2="1540.0" y2="382.6" stroke="#404144" stroke-width="3.6" />
<line x1="1566.7" y1="387.8" x2="1581.9" y2="384.9" stroke="#404144" stroke-width="3.6" />
<line x1="1588.8" y1="398.8" x2="1595.8" y2="397.1" stroke="#404144" stroke-width="3.6" />
<line x1="1604.0" y1="407.6" x2="1620.2" y2="403.5" stroke="#404144" stroke-width="3.6" />
<line x1="1621.4" y1="402.9" x2="1626.0" y2="402.3" stroke="#404144" stroke-width="3.6" />
<line x1="1623.7" y1="412.8" x2="1635.3" y2="410.5" stroke="#404144" stroke-width="3.6" />
<line x1="1541.2" y1="379.1" x2="1559.8" y2="381.4" stroke="#c7d5e2" stroke-width="8" />
<line x1="1565.6" y1="382.6" x2="1580.7" y2="384.9" stroke="#c7d5e2" stroke-width="8" />
<line x1="1594.7" y1="396.5" x2="1617.9" y2="394.2" stroke="#c7d5e2" stroke-width="8" />
<line x1="1612.1" y1="410.5" x2="1629.5" y2="408.1" stroke="#c7d5e2" stroke-width="8" />
<polygon points="1534.2,384.3 1593.5,387.2 1593.5,389.3 1534.2,387.0" fill="#b9705f" />
<polygon points="1621.4,389.5 1640.0,393.3 1640.0,395.6 1621.4,391.9" fill="#b9705f" />
<polygon points="1671.4,401.2 1695.8,404.7 1695.8,407.0 1671.4,403.5" fill="#b9705f" />
<line x1="1645.8" y1="382.6" x2="1722.6" y2="395.9" stroke="#b9705f" stroke-width="1.6" />
<polygon points="1668.5,381.4 1691.7,384.3 1691.7,387.2 1669.1,387.8" fill="#b9705f" />
<polygon points="1669.7,398.8 1680.7,400.0 1681.3,425.6 1670.2,424.4" fill="#b8705f" />
<polygon points="1637.7,391.3 1657.4,394.0 1655.7,441.9 1635.9,437.4" fill="#b9705f" />
<polygon points="1657.4,394.0 1660.9,394.4 1660.3,441.3 1655.7,441.9" fill="#d2d3d5" />
<polygon points="1642.3,405.6 1651.6,406.7 1651.4,415.1 1642.1,414.2" fill="#d6d9dc" />
<polygon points="1643.5,407.0 1650.5,407.9 1650.2,413.4 1643.3,412.8" fill="#6a8094" />
<polygon points="1639.4,418.8 1651.9,420.3 1651.6,425.0 1639.2,423.5" fill="#e6e7e8" />
<polygon points="1661.5,394.8 1667.9,395.7 1667.9,443.0 1661.5,442.1" fill="#d9dadc" />
<line x1="1661.9" y1="394.8" x2="1661.9" y2="442.1" stroke="#efeff0" stroke-width="1" />
<polygon points="1694.7,402.9 1703.4,403.8 1703.4,448.8 1694.7,447.9" fill="#d9dadc" />
<line x1="1695.0" y1="402.9" x2="1695.0" y2="447.9" stroke="#efeff0" stroke-width="1" />
<polygon points="1723.7,394.2 1730.1,395.1 1730.1,440.7 1723.7,439.8" fill="#d9dadc" />
<line x1="1724.1" y1="394.2" x2="1724.1" y2="439.8" stroke="#efeff0" stroke-width="1" />
<polygon points="1680.7,386.0 1687.7,387.0 1687.7,433.7 1680.7,432.8" fill="#d9dadc" />
<line x1="1681.0" y1="386.0" x2="1681.0" y2="432.8" stroke="#efeff0" stroke-width="1" />
<line x1="1669.1" y1="440.7" x2="1694.7" y2="446.5" stroke="#d0d1d3" stroke-width="3" />
<line x1="1702.8" y1="404.7" x2="1724.9" y2="396.5" stroke="#d0d1d3" stroke-width="2" />
<line x1="1667.9" y1="388.4" x2="1723.7" y2="394.2" stroke="#d0d1d3" stroke-width="2" />
<ellipse cx="1711.5" cy="427.3" rx="8.5" ry="10" fill="#d3e0ec" stroke="#b2c2d1" stroke-width="0.8"/>
<ellipse cx="1709.8" cy="427.3" rx="6.5" ry="9.5" fill="#e9eff5"/>
<defs>
<linearGradient id="refl" x1="0" y1="0" x2="0" y2="1"><stop offset="0" stop-color="#c9ccd2" stop-opacity="0.38"/><stop offset="1" stop-color="#dde1e8" stop-opacity="0"/></linearGradient>
</defs>
<polygon points="501.4,459.9 548.5,460.9 666.2,483.4 676.9,496.2 527.1,489.8" fill="url(#refl)" />
<polygon points="500.3,443.8 519.6,440.1 582.7,451.3 548.5,457.7" fill="#efeff0" />
<polygon points="500.3,443.8 548.5,457.7 582.7,451.3 582.7,453.4 548.5,460.4 500.3,446.5" fill="#cfd0d2" />
<polygon points="661.9,434.2 687.6,425.6 710.0,432.0 710.0,466.3 685.4,477.0 661.9,472.7" fill="#dedee0" />
<polygon points="661.9,434.2 687.6,425.6 710.0,432.0 686.5,439.5" fill="#ececed" />
<polygon points="576.3,429.9 664.0,449.2 664.0,482.3 590.2,465.2 576.3,462.0" fill="#e1e1e3" />
<polygon points="590.2,434.2 604.1,437.4 605.2,465.2 590.7,462.0" fill="#e9e9ea" />
<polygon points="606.3,438.5 625.5,442.7 626.6,467.3 606.8,464.1" fill="#d9d9db" />
<polygon points="627.6,443.8 661.9,451.3 661.9,481.3 628.2,472.7" fill="#dfdfe1" />
<line x1="616.4" y1="442.7" x2="617.0" y2="465.2" stroke="#bdbdbf" stroke-width="1" />
<polygon points="626.6,448.1 637.8,450.2 637.8,460.9 626.6,458.8" fill="#39463f" />
<polygon points="627.6,449.2 636.7,451.0 636.7,455.6 627.6,454.0" fill="#5d6d66" />
<polygon points="564.0,416.0 664.0,441.1 664.0,450.2 564.0,424.0" fill="#e6e6e8" />
<polygon points="564.0,420.8 664.0,446.0 664.0,449.2 564.0,423.8" fill="#d08a7d" />
<polygon points="518.5,403.7 545.3,397.8 576.3,405.3 576.3,412.8 564.5,417.1 563.5,451.3 554.9,451.3 519.6,441.7" fill="#e3e3e5" />
<polygon points="521.7,408.5 553.3,417.1 553.3,442.7 522.3,434.7" fill="#a9a9ab" />
<polygon points="521.7,408.5 553.3,417.1 553.3,420.3 522.3,412.3" fill="#2d2d2f" />
<polygon points="522.3,412.8 535.7,436.3 522.3,434.2" fill="#c5c5c7" />
<polygon points="544.2,424.6 553.3,425.6 553.3,438.5 548.5,438.5" fill="#3b3b3d" />
<polygon points="546.3,420.3 549.0,420.3 549.0,433.1 546.3,433.1" fill="#d08a7d" />
<polygon points="550.6,382.8 580.6,376.4 681.1,403.7 651.2,410.7" fill="#ededee" />
<polygon points="546.3,387.1 550.6,382.8 651.2,410.7 654.4,425.6 543.7,396.2" fill="#e2e2e4" />
<polygon points="651.2,410.7 681.1,403.7 686.5,418.1 654.4,425.6" fill="#d5d5d7" />
<polygon points="543.7,395.7 654.4,424.6 654.4,427.2 543.7,398.3" fill="#d08a7d" />
<polygon points="654.4,424.6 688.1,417.6 688.1,420.3 654.4,427.2" fill="#d08a7d" />
<polygon points="544.2,398.3 654.4,427.2 685.4,420.3 685.4,436.3 655.5,440.6 576.3,420.3 563.5,416.0 545.3,402.1" fill="#d2d2d4" />
<polygon points="576.3,408.5 602.0,414.9 611.6,426.7 576.3,418.1" fill="#b9b9bb" />
<polygon points="655.5,427.8 685.4,421.3 685.4,436.3 655.5,440.6" fill="#c3c3c5" />
<line x1="664.0" y1="442.7" x2="676.9" y2="482.3" stroke="#9fa3a8" stroke-width="1.2" />
<line x1="671.5" y1="440.6" x2="685.4" y2="481.3" stroke="#9fa3a8" stroke-width="1.2" />
<line x1="699.9" y1="433.1" x2="712.2" y2="473.8" stroke="#9fa3a8" stroke-width="1.2" />
<line x1="707.3" y1="431.5" x2="719.6" y2="472.7" stroke="#9fa3a8" stroke-width="1.2" />
<line x1="664.0" y1="442.7" x2="671.5" y2="440.6" stroke="#b3b6ba" stroke-width="0.8" />
<line x1="699.9" y1="433.1" x2="707.3" y2="431.5" stroke="#b3b6ba" stroke-width="0.8" />
<line x1="665.4" y1="447.1" x2="673.1" y2="445.1" stroke="#b3b6ba" stroke-width="0.8" />
<line x1="701.2" y1="437.6" x2="708.7" y2="436.1" stroke="#b3b6ba" stroke-width="0.8" />
<line x1="666.9" y1="451.5" x2="674.6" y2="449.6" stroke="#b3b6ba" stroke-width="0.8" />
<line x1="702.6" y1="442.1" x2="710.1" y2="440.7" stroke="#b3b6ba" stroke-width="0.8" />
<line x1="668.3" y1="455.9" x2="676.1" y2="454.2" stroke="#b3b6ba" stroke-width="0.8" />
<line x1="704.0" y1="446.7" x2="711.4" y2="445.2" stroke="#b3b6ba" stroke-width="0.8" />
<line x1="669.7" y1="460.3" x2="677.7" y2="458.7" stroke="#b3b6ba" stroke-width="0.8" />
<line x1="705.3" y1="451.2" x2="712.8" y2="449.8" stroke="#b3b6ba" stroke-width="0.8" />
<line x1="671.2" y1="464.7" x2="679.2" y2="463.2" stroke="#b3b6ba" stroke-width="0.8" />
<line x1="706.7" y1="455.7" x2="714.2" y2="454.4" stroke="#b3b6ba" stroke-width="0.8" />
<line x1="672.6" y1="469.1" x2="680.8" y2="467.7" stroke="#b3b6ba" stroke-width="0.8" />
<line x1="708.1" y1="460.2" x2="715.5" y2="459.0" stroke="#b3b6ba" stroke-width="0.8" />
<line x1="674.0" y1="473.5" x2="682.3" y2="472.2" stroke="#b3b6ba" stroke-width="0.8" />
<line x1="709.4" y1="464.7" x2="716.9" y2="463.5" stroke="#b3b6ba" stroke-width="0.8" />
<line x1="675.4" y1="477.9" x2="683.9" y2="476.7" stroke="#b3b6ba" stroke-width="0.8" />
<line x1="710.8" y1="469.2" x2="718.3" y2="468.1" stroke="#b3b6ba" stroke-width="0.8" />
<line x1="676.9" y1="482.3" x2="685.4" y2="481.3" stroke="#b3b6ba" stroke-width="0.8" />
<line x1="712.2" y1="473.8" x2="719.6" y2="472.7" stroke="#b3b6ba" stroke-width="0.8" />
<ellipse cx="692.9" cy="468.4" rx="8" ry="5.5" fill="#c5d6e3" stroke="#a5b4c0" stroke-width="0.7"/>
<polygon points="795.1,525.4 928.2,568.1 980.9,571.9 993.5,579.4 817.7,579.4 792.6,543.0" fill="url(#refl)" />
<polygon points="973.4,516.7 998.5,511.6 1026.1,517.9 1026.1,559.3 1001.0,569.4 973.4,565.6" fill="#dedee0" />
<polygon points="973.4,516.7 998.5,511.6 1026.1,517.9 1002.3,525.4" fill="#ececed" />
<polygon points="794.4,484.0 827.7,475.2 829.0,522.9 805.1,523.6 795.1,520.4" fill="#e4e4e6" />
<polygon points="794.4,484.0 810.8,489.0 810.8,523.6 795.1,520.4" fill="#d7d7d9" />
<polygon points="839.0,453.2 862.9,448.2 987.2,480.2 968.4,487.1" fill="#ededee" />
<polygon points="829.0,461.4 839.0,453.2 968.4,487.1 968.4,504.1 827.7,467.7" fill="#e3e3e5" />
<polygon points="968.4,487.1 987.2,480.2 996.6,492.8 968.4,504.1" fill="#d6d6d8" />
<polygon points="827.7,466.4 968.4,502.8 968.4,509.1 827.7,472.1" fill="#d08a7d" />
<polygon points="968.4,502.8 998.5,495.9 998.5,501.6 968.4,509.1" fill="#d08a7d" />
<polygon points="828.3,472.1 968.4,509.1 998.5,501.6 997.3,522.9 968.4,529.2 829.0,489.0" fill="#d9d9db" />
<polygon points="852.2,486.5 866.0,490.3 866.0,497.8 852.2,494.0" fill="#9ec9c2" opacity="0.8"/>
<polygon points="857.9,487.1 871.7,490.9 871.7,498.4 857.9,494.7" fill="#d6a6a6" opacity="0.8"/>
<polygon points="879.2,493.4 893.0,497.2 893.0,504.7 879.2,501.0" fill="#d6a6a6" opacity="0.8"/>
<polygon points="905.6,501.0 919.4,504.7 919.4,512.3 905.6,508.5" fill="#c98c84" opacity="0.8"/>
<polygon points="944.5,513.5 958.3,517.3 958.3,524.8 944.5,521.0" fill="#b9786c" opacity="0.8"/>
<polygon points="837.1,482.7 845.3,484.0 845.3,491.5 837.1,489.7" fill="#bdbdbf" />
<polygon points="813.9,486.5 980.9,530.5 980.9,541.8 813.9,497.8" fill="#e6e6e8" />
<line x1="813.9" y1="486.5" x2="980.9" y2="530.5" stroke="#f4f4f5" stroke-width="1.2" />
<polygon points="830.2,502.2 930.7,528.6 930.7,536.7 830.2,510.4" fill="#cfcfd1" />
<polygon points="855.3,512.9 862.9,514.8 862.9,528.0 855.3,526.1" fill="#c79289" />
<polygon points="880.5,519.2 888.0,521.0 888.0,534.2 880.5,532.3" fill="#c79289" />
<polygon points="906.8,526.7 914.4,528.6 914.4,541.8 906.8,539.9" fill="#c79289" />
<polygon points="837.1,505.3 852.8,509.1 852.8,529.2 837.1,525.4" fill="#e7e7e9" />
<polygon points="852.8,509.1 856.0,509.7 856.0,529.2 852.8,529.2" fill="#c6c6c8" />
<polygon points="863.5,512.3 879.2,516.0 879.2,535.5 863.5,531.7" fill="#e7e7e9" />
<polygon points="879.2,516.0 882.3,516.7 882.3,535.5 879.2,535.5" fill="#c6c6c8" />
<polygon points="889.9,519.2 905.6,522.9 905.6,543.0 889.9,539.3" fill="#e7e7e9" />
<polygon points="905.6,522.9 908.7,523.6 908.7,543.0 905.6,543.0" fill="#c6c6c8" />
<polygon points="915.6,526.1 928.2,529.8 928.2,545.5 915.6,541.8" fill="#e7e7e9" />
<polygon points="928.2,529.8 931.3,530.5 931.3,545.5 928.2,545.5" fill="#c6c6c8" />
<polygon points="928.2,530.5 979.7,540.5 979.7,569.4 928.8,555.6" fill="#e2e2e4" />
<polygon points="940.1,535.5 952.7,538.0 952.7,549.3 940.1,546.8" fill="#2f3a35" />
<polygon points="941.4,536.7 951.4,538.8 951.4,543.0 941.4,541.1" fill="#54655d" />
<line x1="979.7" y1="530.5" x2="993.5" y2="569.4" stroke="#9fa3a8" stroke-width="1.2" />
<line x1="987.2" y1="528.6" x2="1001.0" y2="568.1" stroke="#9fa3a8" stroke-width="1.2" />
<line x1="1012.3" y1="517.9" x2="1024.9" y2="559.3" stroke="#9fa3a8" stroke-width="1.2" />
<line x1="1019.2" y1="516.7" x2="1031.8" y2="559.3" stroke="#9fa3a8" stroke-width="1.2" />
<line x1="805.1" y1="486.5" x2="817.7" y2="524.2" stroke="#9fa3a8" stroke-width="1.2" />
<line x1="812.0" y1="485.3" x2="824.6" y2="524.2" stroke="#9fa3a8" stroke-width="1.2" />
<line x1="979.7" y1="530.5" x2="987.2" y2="528.6" stroke="#b3b6ba" stroke-width="0.8" />
<line x1="1012.3" y1="517.9" x2="1019.2" y2="516.7" stroke="#b3b6ba" stroke-width="0.8" />
<line x1="805.1" y1="486.5" x2="812.0" y2="485.3" stroke="#b3b6ba" stroke-width="0.8" />
<line x1="981.2" y1="534.8" x2="988.7" y2="533.0" stroke="#b3b6ba" stroke-width="0.8" />
<line x1="1013.7" y1="522.5" x2="1020.6" y2="521.4" stroke="#b3b6ba" stroke-width="0.8" />
<line x1="806.5" y1="490.7" x2="813.4" y2="489.6" stroke="#b3b6ba" stroke-width="0.8" />
<line x1="982.7" y1="539.1" x2="990.3" y2="537.4" stroke="#b3b6ba" stroke-width="0.8" />
<line x1="1015.1" y1="527.1" x2="1022.0" y2="526.1" stroke="#b3b6ba" stroke-width="0.8" />
<line x1="807.9" y1="494.9" x2="814.8" y2="493.9" stroke="#b3b6ba" stroke-width="0.8" />
<line x1="984.3" y1="543.4" x2="991.8" y2="541.8" stroke="#b3b6ba" stroke-width="0.8" />
<line x1="1016.5" y1="531.7" x2="1023.4" y2="530.9" stroke="#b3b6ba" stroke-width="0.8" />
<line x1="809.3" y1="499.1" x2="816.2" y2="498.2" stroke="#b3b6ba" stroke-width="0.8" />
<line x1="985.8" y1="547.8" x2="993.3" y2="546.2" stroke="#b3b6ba" stroke-width="0.8" />
<line x1="1017.9" y1="536.3" x2="1024.8" y2="535.6" stroke="#b3b6ba" stroke-width="0.8" />
<line x1="810.7" y1="503.3" x2="817.6" y2="502.6" stroke="#b3b6ba" stroke-width="0.8" />
<line x1="987.3" y1="552.1" x2="994.9" y2="550.6" stroke="#b3b6ba" stroke-width="0.8" />
<line x1="1019.3" y1="540.9" x2="1026.2" y2="540.4" stroke="#b3b6ba" stroke-width="0.8" />
<line x1="812.1" y1="507.4" x2="819.0" y2="506.9" stroke="#b3b6ba" stroke-width="0.8" />
<line x1="988.9" y1="556.4" x2="996.4" y2="555.0" stroke="#b3b6ba" stroke-width="0.8" />
<line x1="1020.7" y1="545.5" x2="1027.6" y2="545.1" stroke="#b3b6ba" stroke-width="0.8" />
<line x1="813.5" y1="511.6" x2="820.4" y2="511.2" stroke="#b3b6ba" stroke-width="0.8" />
<line x1="990.4" y1="560.7" x2="998.0" y2="559.3" stroke="#b3b6ba" stroke-width="0.8" />
<line x1="1022.1" y1="550.1" x2="1029.0" y2="549.9" stroke="#b3b6ba" stroke-width="0.8" />
<line x1="814.9" y1="515.8" x2="821.8" y2="515.5" stroke="#b3b6ba" stroke-width="0.8" />
<line x1="992.0" y1="565.1" x2="999.5" y2="563.7" stroke="#b3b6ba" stroke-width="0.8" />
<line x1="1023.5" y1="554.7" x2="1030.4" y2="554.6" stroke="#b3b6ba" stroke-width="0.8" />
<line x1="816.3" y1="520.0" x2="823.2" y2="519.9" stroke="#b3b6ba" stroke-width="0.8" />
<line x1="993.5" y1="569.4" x2="1001.0" y2="568.1" stroke="#b3b6ba" stroke-width="0.8" />
<line x1="1024.9" y1="559.3" x2="1031.8" y2="559.3" stroke="#b3b6ba" stroke-width="0.8" />
<line x1="817.7" y1="524.2" x2="824.6" y2="524.2" stroke="#b3b6ba" stroke-width="0.8" />
<polygon points="998.5,550.6 1011.1,548.0 1013.6,560.6 1002.3,563.7" fill="#d4958b" />
<polygon points="1098.8,600.3 1243.3,640.5 1338.7,653.1 1331.2,659.3 1117.7,643.0" fill="url(#refl)" />
<polygon points="1097.0,563.9 1117.7,555.7 1145.3,562.7 1121.4,572.7" fill="#ececed" />
<polygon points="1097.0,563.9 1121.4,572.7 1121.4,599.1 1100.7,595.3 1097.0,594.0" fill="#e2e2e4" />
<line x1="1101.3" y1="572.1" x2="1116.4" y2="575.8" stroke="#8d8e90" stroke-width="1.2" />
<line x1="1101.3" y1="573.8" x2="1116.4" y2="577.6" stroke="#8d8e90" stroke-width="1.2" />
<line x1="1101.3" y1="575.6" x2="1116.4" y2="579.4" stroke="#8d8e90" stroke-width="1.2" />
<line x1="1101.3" y1="577.3" x2="1116.4" y2="581.1" stroke="#8d8e90" stroke-width="1.2" />
<line x1="1101.3" y1="579.1" x2="1116.4" y2="582.9" stroke="#8d8e90" stroke-width="1.2" />
<line x1="1101.3" y1="580.9" x2="1116.4" y2="584.6" stroke="#8d8e90" stroke-width="1.2" />
<line x1="1101.3" y1="582.6" x2="1116.4" y2="586.4" stroke="#8d8e90" stroke-width="1.2" />
<polygon points="1121.4,572.7 1145.3,562.7 1145.3,592.8 1121.4,599.1" fill="#d3d3d5" />
<path d="M1121.4,573.3 Q1139.0,577.7 1135.3,589.0 L1121.4,597.8 Z" fill="#9a6e69"/>
<polygon points="1136.5,575.2 1152.8,566.4 1157.9,567.7 1155.3,592.8 1142.8,595.3" fill="#bdbdbf" />
<polygon points="1144.0,565.2 1156.6,565.2 1156.6,576.5 1144.7,577.7" fill="#e6e6e7" />
<polygon points="1160.4,550.7 1178.0,542.6 1220.0,552.6 1205.0,560.8" fill="#ededee" />
<polygon points="1160.4,550.7 1205.0,560.8 1205.0,589.0 1160.4,580.2" fill="#bf8077" />
<polygon points="1177.3,577.1 1186.7,579.0 1186.7,582.7 1177.3,580.9" fill="#e6e6e7" />
<polygon points="1205.0,560.8 1220.0,552.6 1220.0,605.3 1205.0,610.4" fill="#d0d0d2" />
<polygon points="1154.1,582.7 1160.4,580.2 1205.0,589.0 1201.8,592.8" fill="#e9e9ea" />
<polygon points="1154.1,582.7 1201.8,592.8 1201.2,626.1 1154.1,616.7" fill="#e4e4e6" />
<polygon points="1201.8,592.8 1205.0,589.0 1209.3,590.3 1209.3,610.4 1201.2,626.1" fill="#d1d1d3" />
<polygon points="1145.3,592.8 1154.1,590.3 1154.1,610.4 1145.3,609.1" fill="#dddddf" />
<polygon points="1208.1,610.4 1219.4,607.9 1219.4,626.7 1208.1,625.4" fill="#e0e0e2" />
<polygon points="1218.8,570.8 1228.2,565.8 1276.5,576.5 1264.6,580.9" fill="#ededee" />
<polygon points="1218.8,570.8 1264.6,580.9 1264.6,603.5 1218.8,593.4" fill="#bf8077" />
<polygon points="1236.3,591.5 1245.8,593.4 1245.8,597.2 1236.3,595.3" fill="#e6e6e7" />
<polygon points="1264.6,580.9 1276.5,576.5 1276.5,620.4 1264.6,625.4" fill="#d0d0d2" />
<polygon points="1218.8,593.4 1264.6,603.5 1264.6,638.0 1219.4,626.7" fill="#e4e4e6" />
<polygon points="1265.9,625.4 1279.7,622.9 1279.7,640.5 1265.9,639.3" fill="#e0e0e2" />
<polygon points="1279.7,607.9 1293.5,603.5 1318.6,607.2 1338.7,617.9 1324.9,621.7 1303.5,610.4" fill="#ececed" />
<polygon points="1279.7,607.9 1303.5,610.4 1318.6,617.9 1324.9,621.7 1324.9,652.4 1279.7,641.8" fill="#e2e2e4" />
<path d="M1318.6,617.9 Q1338.7,620.4 1338.7,646.8 L1324.9,652.4 L1324.9,621.7 Z" fill="#d1d1d3"/>
<ellipse cx="1325.5" cy="631.7" rx="4" ry="9" fill="#c98a7f"/>
<polygon points="1296.0,587.8 1309.8,590.3 1309.8,600.3 1296.0,597.8" fill="#dcdcde" />
<line x1="1305.4" y1="600.3" x2="1305.4" y2="606.6" stroke="#b0b0b2" stroke-width="2" />
<polygon points="1631.9,565.2 1781.3,573.8 1781.3,584.2 1631.9,579.5" fill="url(#refl)" />
<line x1="1626.2" y1="541.4" x2="1784.2" y2="565.2" stroke="#8d8e90" stroke-width="1.6" />
<polygon points="1650.0,501.4 1748.0,523.3 1748.0,565.2 1650.0,542.3" fill="#f3f3f4" />
<polygon points="1651.9,510.0 1682.3,515.7 1682.3,536.6 1651.9,530.9" fill="#d9dadd" />
<polygon points="1699.5,519.5 1731.8,526.2 1731.8,549.0 1699.5,542.3" fill="#d9dadd" />
<g transform="rotate(-20 1667.1 529.0)"><rect x="1655.1" y="523.0" width="24" height="12" rx="5" fill="#e8dcda"/><ellipse cx="1656.1" cy="529.0" rx="3" ry="6" fill="#d7e3ee"/></g>
<circle cx="1669.1" cy="528.0" r="1.6" fill="#c96b5e"/><circle cx="1674.1" cy="526.0" r="1.6" fill="#c96b5e"/><circle cx="1664.1" cy="531.0" r="1.6" fill="#c96b5e"/>
<g transform="rotate(-20 1715.7 540.4)"><rect x="1703.7" y="534.4" width="24" height="12" rx="5" fill="#e8dcda"/><ellipse cx="1704.7" cy="540.4" rx="3" ry="6" fill="#d7e3ee"/></g>
<circle cx="1717.7" cy="539.4" r="1.6" fill="#c96b5e"/><circle cx="1722.7" cy="537.4" r="1.6" fill="#c96b5e"/><circle cx="1712.7" cy="542.4" r="1.6" fill="#c96b5e"/>
<line x1="1701.4" y1="527.1" x2="1717.6" y2="524.3" stroke="#2f3033" stroke-width="5" />
<line x1="1653.8" y1="519.5" x2="1663.3" y2="517.6" stroke="#2f3033" stroke-width="3" />
<polygon points="1748.0,514.7 1780.4,508.1 1780.4,561.4 1748.0,570.9" fill="#d6d7d9" />
<polygon points="1751.8,523.3 1774.7,517.6 1774.7,557.6 1751.8,564.2" fill="#e8edf2" />
<polygon points="1752.8,527.1 1771.8,523.3 1771.8,530.0 1752.8,533.8" fill="#3d3e41" opacity="0.3"/>
<polygon points="1752.8,548.1 1771.8,545.2 1771.8,549.0 1752.8,551.9" fill="#3d3e41" opacity="0.25"/>
<ellipse cx="1762.3" cy="540.4" rx="8" ry="5" fill="#f2f5f8" stroke="#c5cdd5" stroke-width="0.6"/>
<polygon points="1631.9,496.7 1650.0,500.3 1650.0,549.8 1631.9,546.2" fill="#e6e6e8" />
<polygon points="1650.0,500.3 1652.8,499.7 1652.8,549.2 1650.0,549.8" fill="#c9c9cb" />
<polygon points="1631.9,508.1 1650.0,511.7 1650.0,516.9 1631.9,513.3" fill="#d1897c" />
<polygon points="1631.9,533.8 1650.0,537.4 1650.0,539.1 1631.9,535.5" fill="#d1897c" />
<polygon points="1682.3,508.1 1698.5,511.3 1698.5,561.8 1682.3,558.5" fill="#e6e6e8" />
<polygon points="1698.5,511.3 1701.4,510.7 1701.4,561.2 1698.5,561.8" fill="#c9c9cb" />
<polygon points="1682.3,519.5 1698.5,522.7 1698.5,528.0 1682.3,524.7" fill="#d1897c" />
<polygon points="1682.3,546.2 1698.5,549.4 1698.5,551.1 1682.3,547.9" fill="#d1897c" />
<polygon points="1731.8,518.5 1748.0,521.8 1748.0,575.1 1731.8,571.9" fill="#e6e6e8" />
<polygon points="1748.0,521.8 1750.9,521.2 1750.9,574.5 1748.0,575.1" fill="#c9c9cb" />
<polygon points="1731.8,530.0 1748.0,533.2 1748.0,538.4 1731.8,535.2" fill="#d1897c" />
<polygon points="1731.8,559.5 1748.0,562.7 1748.0,564.4 1731.8,561.2" fill="#d1897c" />
<polygon points="1634.8,506.2 1641.9,507.6 1641.9,525.2 1634.8,523.8" fill="#c6c8cb" />
<polygon points="1635.5,507.3 1641.2,508.5 1641.2,512.4 1635.5,511.2" fill="#3c4a50" />
<polygon points="1635.9,517.6 1640.9,518.5 1640.9,521.4 1635.9,520.5" fill="#9fb08a" />
<polygon points="1632.4,490.5 1670.9,480.5 1780.4,507.6 1748.0,515.7" fill="#eeeeef" />
<polygon points="1632.4,490.5 1748.0,515.7 1748.0,526.2 1632.4,500.9" fill="#e0e0e2" />
<polygon points="1748.0,515.7 1780.4,507.6 1780.4,517.6 1748.0,526.2" fill="#cfcfd1" />
<line x1="1654.7" y1="492.8" x2="1701.4" y2="498.6" stroke="#45464a" stroke-width="1.8" />
<line x1="1663.3" y1="490.5" x2="1703.3" y2="495.7" stroke="#45464a" stroke-width="1.8" />
<line x1="1706.1" y1="503.3" x2="1750.9" y2="510.0" stroke="#45464a" stroke-width="1.8" />
<line x1="1714.7" y1="500.5" x2="1752.8" y2="507.1" stroke="#45464a" stroke-width="1.8" />
<line x1="1684.3" y1="498.6" x2="1686.2" y2="487.1" stroke="#d6d7d9" stroke-width="1.2" />
<polygon points="1661.4,492.8 1695.7,498.6 1695.7,500.0 1661.4,494.3" fill="#d9a49a" opacity="0.8"/>
<polygon points="1417.1,694.4 1437.2,678.0 1441.7,678.0 1441.7,701.8 1438.7,701.8" fill="#a8a9ab" />
<ellipse cx="1438.7" cy="681.7" rx="9" ry="16" fill="#dbe6f0"/>
<polygon points="1431.3,669.8 1444.7,664.6 1447.7,664.6 1447.7,698.1 1432.0,696.6" fill="#d6e2ec" />
<circle cx="1438.7" cy="681.7" r="2.8" fill="#4a4b4e"/>
<polyline points="1446.2,703.3 1446.2,660.9 1479.0,650.4 1518.4,660.1 1518.4,671.3" fill="none" stroke="#c0c1c3" stroke-width="2.2" />
<line x1="1447.7" y1="662.3" x2="1486.4" y2="672.0" stroke="#c0c1c3" stroke-width="2" />
<line x1="1479.0" y1="650.4" x2="1479.0" y2="662.3" stroke="#c0c1c3" stroke-width="2" />
<line x1="1446.2" y1="703.3" x2="1470.8" y2="695.1" stroke="#c0c1c3" stroke-width="2" />
<polygon points="1474.5,664.6 1516.2,660.1 1516.2,671.3 1486.4,672.8" fill="#e9e9ea" />
<polygon points="1448.4,668.3 1470.8,671.3 1470.8,689.2 1448.4,687.7" fill="#e4e9ee" />
<circle cx="1452.1" cy="671.3" r="2.6" fill="#c9806f"/><circle cx="1452.1" cy="671.3" r="1.2" fill="#f3e6e3"/>
<circle cx="1456.6" cy="677.2" r="2.6" fill="#c9806f"/><circle cx="1456.6" cy="677.2" r="1.2" fill="#f3e6e3"/>
<circle cx="1464.1" cy="680.2" r="2.6" fill="#c9806f"/><circle cx="1464.1" cy="680.2" r="1.2" fill="#f3e6e3"/>
<circle cx="1451.4" cy="681.7" r="2.6" fill="#c9806f"/><circle cx="1451.4" cy="681.7" r="1.2" fill="#f3e6e3"/>
<line x1="1452.1" y1="675.0" x2="1470.8" y2="677.2" stroke="#3a3b3e" stroke-width="2.2" />
<line x1="1452.1" y1="686.2" x2="1470.8" y2="688.4" stroke="#3a3b3e" stroke-width="2.0" />
<polygon points="1471.1,669.8 1485.7,672.0 1485.7,711.9 1471.1,709.6" fill="#e6e6e8" />
<polygon points="1471.1,678.7 1485.7,681.0 1485.7,686.9 1471.1,684.7" fill="#c68075" />
<polygon points="1471.1,702.9 1483.4,704.8 1483.4,709.3 1471.1,707.4" fill="#c68075" />
<polygon points="1478.2,690.7 1482.7,691.4 1482.7,695.9 1478.2,695.1" fill="#4f6a77" />
<ellipse cx="1488.9" cy="677.5" rx="5" ry="6" fill="#e3ebf2"/>
<ellipse cx="1491.9" cy="676.5" rx="4.2" ry="5.2" fill="#f2f4f6" stroke="#c9d3dc" stroke-width="0.5"/>
<circle cx="1491.9" cy="676.5" r="2.4" fill="#c4786a"/>
<circle cx="1491.9" cy="676.5" r="0.9" fill="#f4e8e6"/>
<ellipse cx="1500.0" cy="674.5" rx="5" ry="6" fill="#e3ebf2"/>
<ellipse cx="1503.0" cy="673.5" rx="4.2" ry="5.2" fill="#f2f4f6" stroke="#c9d3dc" stroke-width="0.5"/>
<circle cx="1503.0" cy="673.5" r="2.4" fill="#c4786a"/>
<circle cx="1503.0" cy="673.5" r="0.9" fill="#f4e8e6"/>
<ellipse cx="1511.2" cy="676.0" rx="5" ry="6" fill="#e3ebf2"/>
<ellipse cx="1514.2" cy="675.0" rx="4.2" ry="5.2" fill="#f2f4f6" stroke="#c9d3dc" stroke-width="0.5"/>
<circle cx="1514.2" cy="675.0" r="2.4" fill="#c4786a"/>
<circle cx="1514.2" cy="675.0" r="0.9" fill="#f4e8e6"/>
<ellipse cx="1520.9" cy="673.0" rx="5" ry="6" fill="#e3ebf2"/>
<ellipse cx="1523.9" cy="672.0" rx="4.2" ry="5.2" fill="#f2f4f6" stroke="#c9d3dc" stroke-width="0.5"/>
<circle cx="1523.9" cy="672.0" r="2.4" fill="#c4786a"/>
<circle cx="1523.9" cy="672.0" r="0.9" fill="#f4e8e6"/>
<ellipse cx="1503.8" cy="686.4" rx="5" ry="6" fill="#e3ebf2"/>
<ellipse cx="1506.8" cy="685.4" rx="4.2" ry="5.2" fill="#f2f4f6" stroke="#c9d3dc" stroke-width="0.5"/>
<circle cx="1506.8" cy="685.4" r="2.4" fill="#c4786a"/>
<circle cx="1506.8" cy="685.4" r="0.9" fill="#f4e8e6"/>
<ellipse cx="1514.2" cy="682.7" rx="5" ry="6" fill="#e3ebf2"/>
<ellipse cx="1517.2" cy="681.7" rx="4.2" ry="5.2" fill="#f2f4f6" stroke="#c9d3dc" stroke-width="0.5"/>
<circle cx="1517.2" cy="681.7" r="2.4" fill="#c4786a"/>
<circle cx="1517.2" cy="681.7" r="0.9" fill="#f4e8e6"/>
<ellipse cx="1523.9" cy="679.7" rx="5" ry="6" fill="#e3ebf2"/>
<ellipse cx="1526.9" cy="678.7" rx="4.2" ry="5.2" fill="#f2f4f6" stroke="#c9d3dc" stroke-width="0.5"/>
<circle cx="1526.9" cy="678.7" r="2.4" fill="#c4786a"/>
<circle cx="1526.9" cy="678.7" r="0.9" fill="#f4e8e6"/>
<polygon points="1484.2,704.1 1534.8,696.6 1538.5,708.5 1504.3,721.2 1484.9,716.7" fill="#e3e3e5" />
<polygon points="1491.6,701.1 1534.8,696.6 1534.8,699.6 1491.6,704.8" fill="#d6d6d8" />
<polygon points="1118.6,794.0 1265.1,828.8 1265.1,840.0 1118.6,809.3" fill="url(#refl)" />
<polygon points="1117.9,766.7 1233.0,780.0 1281.9,798.1 1281.9,814.9 1265.1,828.8 1120.0,794.0" fill="#e6e6e8" />
<polygon points="1120.0,768.8 1265.1,798.1 1265.1,828.8 1120.0,794.0" fill="#e2e2e4" />
<polygon points="1265.1,798.1 1281.9,795.3 1281.9,816.3 1265.1,828.8" fill="#d0d0d2" />
<line x1="1136.0" y1="772.7" x2="1136.0" y2="801.3" stroke="#bdbdbf" stroke-width="1" />
<line x1="1173.7" y1="780.3" x2="1173.7" y2="808.9" stroke="#bdbdbf" stroke-width="1" />
<line x1="1216.3" y1="788.8" x2="1216.3" y2="817.4" stroke="#bdbdbf" stroke-width="1" />
<polygon points="1120.0,766.0 1125.6,763.3 1241.4,781.4 1240.0,785.6" fill="#d8d8da" />
<polygon points="1125.6,764.6 1240.0,782.8 1240.0,787.0 1125.6,768.8" fill="#59595c" />
<polygon points="1132.6,754.9 1147.9,757.7 1150.7,766.0 1134.0,764.6" fill="#e4e4e6" />
<line x1="1138.1" y1="746.5" x2="1138.1" y2="756.3" stroke="#6a6b6e" stroke-width="2.2" />
<polygon points="1143.7,756.8 1159.1,759.6 1161.9,767.9 1145.1,766.5" fill="#e4e4e6" />
<line x1="1149.3" y1="748.4" x2="1149.3" y2="758.2" stroke="#6a6b6e" stroke-width="2.2" />
<polygon points="1154.9,758.7 1170.2,761.5 1173.0,769.8 1156.3,768.4" fill="#e4e4e6" />
<line x1="1160.5" y1="750.3" x2="1160.5" y2="760.1" stroke="#6a6b6e" stroke-width="2.2" />
<polygon points="1171.6,761.5 1187.0,764.3 1189.8,772.7 1173.0,771.3" fill="#e4e4e6" />
<line x1="1177.2" y1="753.2" x2="1177.2" y2="762.9" stroke="#6a6b6e" stroke-width="2.2" />
<polygon points="1188.4,764.4 1203.7,767.2 1206.5,775.5 1189.8,774.1" fill="#e4e4e6" />
<line x1="1193.9" y1="756.0" x2="1193.9" y2="765.8" stroke="#6a6b6e" stroke-width="2.2" />
<polygon points="1205.1,767.2 1220.5,770.0 1223.2,778.4 1206.5,777.0" fill="#e4e4e6" />
<line x1="1210.7" y1="758.8" x2="1210.7" y2="768.6" stroke="#6a6b6e" stroke-width="2.2" />
<polygon points="1217.7,769.4 1233.0,772.1 1235.8,780.5 1219.1,779.1" fill="#e4e4e6" />
<line x1="1223.2" y1="761.0" x2="1223.2" y2="770.7" stroke="#6a6b6e" stroke-width="2.2" />
<polygon points="1230.2,771.5 1245.6,774.3 1248.4,782.6 1231.6,781.3" fill="#e4e4e6" />
<line x1="1235.8" y1="763.1" x2="1235.8" y2="772.9" stroke="#6a6b6e" stroke-width="2.2" />
<polygon points="1238.6,770.2 1262.3,759.1 1281.9,761.9 1284.6,764.6 1269.3,770.2" fill="#d99b94" />
<polygon points="1238.6,770.2 1269.3,770.2 1269.3,800.9 1240.0,802.3" fill="#d38d85" />
<polygon points="1269.3,770.2 1284.6,764.6 1284.6,794.0 1269.3,800.9" fill="#b9776f" />
<polygon points="1242.8,774.4 1253.9,775.8 1253.9,785.6 1242.8,784.2" fill="#e7e7e8" />
<polygon points="1244.2,775.8 1252.5,776.9 1252.5,782.1 1244.2,781.0" fill="#4a5057" />
<polygon points="1269.3,775.8 1335.6,787.0 1326.5,803.7 1265.1,792.6" fill="#6f7073" />
<rect x="1274.9" y="782.3" width="3.0" height="2.0" fill="#d07a74" />
<rect x="1272.1" y="785.8" width="3.0" height="2.0" fill="#d07a74" />
<rect x="1284.6" y="783.8" width="3.0" height="2.0" fill="#d07a74" />
<rect x="1281.9" y="787.3" width="3.0" height="2.0" fill="#d07a74" />
<rect x="1294.4" y="785.4" width="3.0" height="2.0" fill="#d07a74" />
<rect x="1291.6" y="788.9" width="3.0" height="2.0" fill="#d07a74" />
<rect x="1304.2" y="787.0" width="3.0" height="2.0" fill="#d07a74" />
<rect x="1301.4" y="790.5" width="3.0" height="2.0" fill="#d07a74" />
<rect x="1313.9" y="788.5" width="3.0" height="2.0" fill="#d07a74" />
<rect x="1311.2" y="792.0" width="3.0" height="2.0" fill="#d07a74" />
<rect x="1323.7" y="790.1" width="3.0" height="2.0" fill="#d07a74" />
<rect x="1320.9" y="793.6" width="3.0" height="2.0" fill="#d07a74" />
<polygon points="1089.3,734.0 1115.8,728.4 1118.6,759.1 1106.0,778.6 1103.3,784.2 1097.7,782.8" fill="#e9e9eb" />
<polygon points="1097.0,734.0 1115.8,729.8 1117.2,754.9 1099.1,759.1" fill="#f0e4e4" />
<polygon points="1074.0,750.7 1093.5,743.7 1096.3,766.0 1080.9,775.8" fill="#f0e4e4" />
<polygon points="1072.6,766.0 1094.9,761.9 1101.9,778.6 1074.0,778.6" fill="#ededee" />
<circle cx="1100.5" cy="736.7" r="1.9" fill="#c65a55"/>
<circle cx="1106.0" cy="735.3" r="1.9" fill="#c65a55"/>
<circle cx="1111.6" cy="734.0" r="1.9" fill="#c65a55"/>
<circle cx="1101.9" cy="742.3" r="1.9" fill="#c65a55"/>
<circle cx="1107.4" cy="740.9" r="1.9" fill="#c65a55"/>
<circle cx="1113.0" cy="739.5" r="1.9" fill="#c65a55"/>
<circle cx="1101.9" cy="747.9" r="1.9" fill="#c65a55"/>
<circle cx="1107.4" cy="746.5" r="1.9" fill="#c65a55"/>
<circle cx="1113.0" cy="745.1" r="1.9" fill="#c65a55"/>
<circle cx="1101.9" cy="753.5" r="1.9" fill="#c65a55"/>
<circle cx="1107.4" cy="752.1" r="1.9" fill="#c65a55"/>
<circle cx="1078.1" cy="754.9" r="1.9" fill="#c65a55"/>
<circle cx="1083.7" cy="752.8" r="1.9" fill="#c65a55"/>
<circle cx="1089.3" cy="750.7" r="1.9" fill="#c65a55"/>
<circle cx="1079.5" cy="760.5" r="1.9" fill="#c65a55"/>
<circle cx="1085.1" cy="758.4" r="1.9" fill="#c65a55"/>
<circle cx="1090.7" cy="756.3" r="1.9" fill="#c65a55"/>
<circle cx="1080.9" cy="766.0" r="1.9" fill="#c65a55"/>
<circle cx="1086.5" cy="764.0" r="1.9" fill="#c65a55"/>
<polygon points="1101.9,750.7 1125.6,749.3 1125.6,756.3 1101.9,760.5" fill="#eeeeef" />
<line x1="1092.1" y1="734.0" x2="1092.1" y2="781.4" stroke="#cfcfd1" stroke-width="2" />
<line x1="1115.8" y1="728.4" x2="1118.6" y2="775.8" stroke="#cfcfd1" stroke-width="2" />
<polygon points="1565.7,900.1 1616.7,892.9 1609.4,906.5 1566.6,912.0" fill="#e9e9ea" />
<polygon points="1544.7,835.9 1608.5,852.3 1608.5,905.6 1544.7,889.2" fill="#b09370" />
<line x1="1544.7" y1="835.9" x2="1544.7" y2="889.2" stroke="#f3f3f4" stroke-width="1.8" />
<line x1="1560.7" y1="840.0" x2="1560.7" y2="893.3" stroke="#f3f3f4" stroke-width="1.8" />
<line x1="1576.6" y1="844.1" x2="1576.6" y2="897.4" stroke="#f3f3f4" stroke-width="1.8" />
<line x1="1592.6" y1="848.2" x2="1592.6" y2="901.5" stroke="#f3f3f4" stroke-width="1.8" />
<line x1="1608.5" y1="852.3" x2="1608.5" y2="905.6" stroke="#f3f3f4" stroke-width="1.8" />
<line x1="1544.7" y1="835.9" x2="1608.5" y2="852.3" stroke="#f3f3f4" stroke-width="1.6" />
<line x1="1544.7" y1="844.8" x2="1608.5" y2="861.2" stroke="#f3f3f4" stroke-width="1.6" />
<line x1="1544.7" y1="853.7" x2="1608.5" y2="870.1" stroke="#f3f3f4" stroke-width="1.6" />
<line x1="1544.7" y1="862.6" x2="1608.5" y2="879.0" stroke="#f3f3f4" stroke-width="1.6" />
<line x1="1544.7" y1="871.5" x2="1608.5" y2="887.9" stroke="#f3f3f4" stroke-width="1.6" />
<line x1="1544.7" y1="880.3" x2="1608.5" y2="896.7" stroke="#f3f3f4" stroke-width="1.6" />
<line x1="1544.7" y1="889.2" x2="1608.5" y2="905.6" stroke="#f3f3f4" stroke-width="1.6" />
<line x1="1552.7" y1="839.0" x2="1552.7" y2="890.3" stroke="#8f7555" stroke-width="0.5" />
<line x1="1568.6" y1="843.1" x2="1568.6" y2="894.4" stroke="#8f7555" stroke-width="0.5" />
<line x1="1584.6" y1="847.2" x2="1584.6" y2="898.5" stroke="#8f7555" stroke-width="0.5" />
<line x1="1600.5" y1="851.3" x2="1600.5" y2="902.6" stroke="#8f7555" stroke-width="0.5" />
<polygon points="1544.7,835.9 1550.7,832.9 1614.5,849.3 1608.5,852.3" fill="#f2f2f3" />
<polygon points="1501.9,842.3 1565.7,859.6 1565.7,912.0 1501.9,894.7" fill="#b09370" />
<line x1="1501.9" y1="842.3" x2="1501.9" y2="894.7" stroke="#f3f3f4" stroke-width="1.8" />
<line x1="1517.9" y1="846.6" x2="1517.9" y2="899.0" stroke="#f3f3f4" stroke-width="1.8" />
<line x1="1533.8" y1="851.0" x2="1533.8" y2="903.3" stroke="#f3f3f4" stroke-width="1.8" />
<line x1="1549.7" y1="855.3" x2="1549.7" y2="907.7" stroke="#f3f3f4" stroke-width="1.8" />
<line x1="1565.7" y1="859.6" x2="1565.7" y2="912.0" stroke="#f3f3f4" stroke-width="1.8" />
<line x1="1501.9" y1="842.3" x2="1565.7" y2="859.6" stroke="#f3f3f4" stroke-width="1.6" />
<line x1="1501.9" y1="851.0" x2="1565.7" y2="868.3" stroke="#f3f3f4" stroke-width="1.6" />
<line x1="1501.9" y1="859.8" x2="1565.7" y2="877.1" stroke="#f3f3f4" stroke-width="1.6" />
<line x1="1501.9" y1="868.5" x2="1565.7" y2="885.8" stroke="#f3f3f4" stroke-width="1.6" />
<line x1="1501.9" y1="877.2" x2="1565.7" y2="894.5" stroke="#f3f3f4" stroke-width="1.6" />
<line x1="1501.9" y1="886.0" x2="1565.7" y2="903.3" stroke="#f3f3f4" stroke-width="1.6" />
<line x1="1501.9" y1="894.7" x2="1565.7" y2="912.0" stroke="#f3f3f4" stroke-width="1.6" />
<line x1="1509.9" y1="845.5" x2="1509.9" y2="895.8" stroke="#8f7555" stroke-width="0.5" />
<line x1="1525.8" y1="849.8" x2="1525.8" y2="900.2" stroke="#8f7555" stroke-width="0.5" />
<line x1="1541.8" y1="854.1" x2="1541.8" y2="904.5" stroke="#8f7555" stroke-width="0.5" />
<line x1="1557.7" y1="858.5" x2="1557.7" y2="908.8" stroke="#8f7555" stroke-width="0.5" />
<polygon points="1501.9,842.3 1507.9,839.3 1571.7,856.6 1565.7,859.6" fill="#f2f2f3" />
<polygon points="1470.1,878.3 1480.1,875.6 1493.7,880.1 1483.7,882.8" fill="#e3bb1d" />
<polygon points="1467.3,883.8 1470.1,878.3 1483.7,882.8 1480.1,914.7 1466.4,910.2" fill="#2f2f31" />
<polygon points="1469.1,882.8 1481.9,887.4 1479.2,900.1 1467.3,896.5" fill="#8a8a8a" />
<polygon points="1483.7,882.8 1493.7,880.1 1494.6,904.7 1489.2,911.1 1480.1,914.7" fill="#3a3a3c" />
<polygon points="1459.1,899.2 1476.4,896.5 1479.2,910.2 1476.4,915.6 1460.0,912.0" fill="#e4bc1f" />
<polygon points="1459.1,899.2 1464.6,897.0 1476.4,896.5 1470.1,900.1" fill="#f0cf4a" />
<circle cx="1495.1" cy="907.0" r="4.2" fill="#2b2b2d"/><circle cx="1495.1" cy="907.0" r="2.2" fill="#d2ad1c"/>
<circle cx="1476.0" cy="915.6" r="2.8" fill="#2b2b2d"/>
<line x1="1491.0" y1="875.6" x2="1491.0" y2="899.2" stroke="#9c9c9e" stroke-width="2" />
<line x1="1494.6" y1="892.9" x2="1507.4" y2="894.7" stroke="#555" stroke-width="1.2" />
<line x1="1494.6" y1="898.3" x2="1509.2" y2="900.1" stroke="#555" stroke-width="1.2" />
<ellipse cx="223.5" cy="590.8" rx="30" ry="6" fill="url(#shadowG)"/>
<polygon points="195.1,563.6 212.4,560.1 248.9,570.6 252.4,582.1 231.0,589.7 198.5,579.8" fill="#dcdddf" />
<polygon points="198.5,570.6 231.0,578.1 231.0,589.7 198.5,579.8" fill="#cfd0d2" />
<polygon points="200.3,571.7 230.4,578.7 230.4,580.4 200.3,573.5" fill="#303133" />
<polygon points="200.9,564.8 234.5,570.6 234.5,574.0 200.9,568.2" fill="#3ea0c8" />
<polygon points="212.4,561.3 235.6,565.9 235.6,568.2 212.4,563.6" fill="#49a9cf" />
<polygon points="231.0,570.6 248.9,570.6 252.4,582.1 231.0,589.7" fill="#c3c4c6" />
<line x1="207.2" y1="557.8" x2="207.2" y2="562.4" stroke="#bcbdbf" stroke-width="4" />
<line x1="236.8" y1="562.4" x2="236.8" y2="571.7" stroke="#bcbdbf" stroke-width="4" />
<polygon points="199.1,550.3 207.8,549.1 241.4,559.5 241.4,563.0 234.5,563.6 200.3,556.7" fill="#2f3033" />
<polygon points="200.3,550.9 210.1,551.4 210.1,556.7 200.3,556.4" fill="#3f4a52" />
<rect x="198.5" y="575.8" width="3.0" height="4.0" fill="#2a2a2c" />
<rect x="228.1" y="585.0" width="3.0" height="4.0" fill="#2a2a2c" />
<polygon points="574.6,568.3 633.1,585.4 650.6,593.2 651.3,628.2 635.7,634.9 578.3,617.1 575.0,602.2" fill="#d7d8da" />
<polygon points="575.0,568.3 633.1,585.4 633.1,609.6 578.3,594.0" fill="#d2d3d5" />
<path d="M582.8,572.4 Q584.3,581.3 594.7,582.8 L624.5,591.7 L624.5,585.8 Z" fill="#b4b5b7"/>
<polygon points="578.3,594.0 633.1,609.6 633.1,617.1 578.3,602.2" fill="#e6e6e8" />
<polygon points="578.3,606.6 633.5,621.5 633.5,630.5 578.3,615.6" fill="#59595c" />
<line x1="605.1" y1="614.1" x2="605.1" y2="625.3" stroke="#d0d0d2" stroke-width="2" />
<polygon points="633.1,585.8 650.6,593.2 651.3,628.2 635.7,634.9 633.5,630.5" fill="#e1e1e3" />
<polygon points="633.1,585.8 642.4,588.0 642.8,621.5 633.5,620.0" fill="#cfcfd1" />
<ellipse cx="407.1" cy="710.5" rx="55" ry="8" fill="url(#shadowG)"/>
<polygon points="360.1,661.3 375.8,657.6 396.6,661.3 381.7,665.0" fill="#cacbcd" />
<polygon points="360.1,661.3 381.7,665.0 380.2,698.6 376.5,697.1 364.6,694.1 361.6,693.3" fill="#b2b3b5" />
<polygon points="381.7,665.0 396.6,661.3 396.6,691.1 380.2,698.6" fill="#a0a1a3" />
<rect x="363.5" y="673.2" width="1.5" height="2.5" fill="#2a2a2c" />
<rect x="374.6" y="676.9" width="1.5" height="2.5" fill="#2a2a2c" />
<polygon points="393.7,679.2 406.3,678.4 407.1,701.5 396.6,702.3" fill="#b56a52" />
<ellipse cx="401.8" cy="652.4" rx="10" ry="5" fill="#e8eaef" stroke="#b7b9bd" stroke-width="0.8"/>
<ellipse cx="386.9" cy="658.3" rx="3.5" ry="1.8" fill="#e8e8ea" stroke="#999" stroke-width="0.5"/>
<ellipse cx="386.2" cy="668.7" rx="3.5" ry="2.5" fill="#e8e8ea" stroke="#999" stroke-width="0.5"/>
<line x1="378.7" y1="659.8" x2="421.2" y2="659.1" stroke="#49494c" stroke-width="1.1" />
<line x1="378.7" y1="659.8" x2="381.7" y2="700.8" stroke="#49494c" stroke-width="1.1" />
<line x1="399.6" y1="664.3" x2="400.4" y2="706.8" stroke="#49494c" stroke-width="1.1" />
<line x1="420.5" y1="659.1" x2="420.5" y2="671.7" stroke="#49494c" stroke-width="1.1" />
<line x1="380.2" y1="674.7" x2="414.5" y2="671.7" stroke="#49494c" stroke-width="1.1" />
<line x1="413.8" y1="658.3" x2="413.8" y2="664.3" stroke="#49494c" stroke-width="1.1" />
<polygon points="406.3,677.7 445.8,676.2 445.8,708.2 425.7,714.2 407.8,707.5" fill="#dcdcde" />
<polygon points="406.3,677.7 422.7,671.7 445.8,676.2 425.7,682.2" fill="#e9e9ea" />
<polygon points="425.7,682.2 445.8,676.2 447.3,707.5 426.4,714.2" fill="#cbcbcd" />
<ellipse cx="426.4" cy="674.7" rx="4" ry="2.2" fill="#1f1f21"/>
<rect x="425.7" y="671.7" width="8.0" height="4.0" fill="#2a2a2c" />
<rect x="408.9" y="688.1" width="1.5" height="2.6" fill="#2a2a2c" />
<rect x="420.1" y="692.2" width="1.5" height="2.6" fill="#2a2a2c" />
<rect x="427.2" y="692.2" width="1.5" height="2.6" fill="#2a2a2c" />
<rect x="442.1" y="688.1" width="1.5" height="2.6" fill="#2a2a2c" />
<polygon points="586.4,861.5 763.7,876.4 763.7,883.8 586.4,883.8" fill="url(#refl)" />
<polygon points="586.4,788.5 598.3,785.5 626.6,794.4 626.6,831.7 613.2,831.7 587.1,822.7" fill="#d3d0d1" />
<polygon points="589.4,792.2 599.1,794.4 599.1,827.2 589.4,824.2" fill="#c2bfc0" />
<polygon points="602.0,795.9 611.7,798.1 611.7,830.2 602.0,827.2" fill="#c9c6c7" />
<polygon points="626.6,794.4 647.5,797.4 653.5,827.2 674.3,848.1 653.5,842.1 626.6,831.7" fill="#a35f55" />
<polygon points="634.1,801.9 647.5,803.4 652.0,824.2 635.6,824.2" fill="#8e5249" />
<polygon points="677.3,815.3 707.1,822.7 707.1,852.5 677.3,845.1" fill="#b4b0b1" />
<polygon points="707.1,822.7 742.9,819.8 742.9,836.1 707.1,852.5" fill="#8d8b8c" />
<defs><linearGradient id="tankG" x1="0" y1="0" x2="1" y2="0"><stop offset="0" stop-color="#b9babc"/><stop offset="0.45" stop-color="#e4e5e6"/><stop offset="1" stop-color="#a9aaac"/></linearGradient><linearGradient id="ductG" x1="0" y1="0" x2="0" y2="1"><stop offset="0" stop-color="#e2e3e4"/><stop offset="0.5" stop-color="#c4c5c7"/><stop offset="1" stop-color="#9fa0a2"/></linearGradient></defs>
<rect x="607.3" y="725.9" width="29.8" height="35.8" fill="url(#tankG)"/>
<ellipse cx="622.2" cy="725.9" rx="14.9" ry="3.5" fill="#d8d9db"/>
<rect x="617.2" y="721.9" width="10" height="4" fill="#cfd0d2"/>
<path d="M609.3,756.6 L609.3,739.9 Q610.3,732.9 616.3,733.9" fill="none" stroke="#f4f4f5" stroke-width="2.4"/>
<rect x="631.1" y="732.6" width="29.8" height="35.8" fill="url(#tankG)"/>
<ellipse cx="646.0" cy="732.6" rx="14.9" ry="3.5" fill="#d8d9db"/>
<rect x="641.0" y="728.6" width="10" height="4" fill="#cfd0d2"/>
<path d="M633.1,763.3 L633.1,746.6 Q634.1,739.6 640.1,740.6" fill="none" stroke="#f4f4f5" stroke-width="2.4"/>
<rect x="655.7" y="739.3" width="29.8" height="35.8" fill="url(#tankG)"/>
<ellipse cx="670.6" cy="739.3" rx="14.9" ry="3.5" fill="#d8d9db"/>
<rect x="665.6" y="735.3" width="10" height="4" fill="#cfd0d2"/>
<path d="M657.7,770.0 L657.7,753.3 Q658.7,746.3 664.7,747.3" fill="none" stroke="#f4f4f5" stroke-width="2.4"/>
<rect x="680.3" y="746.7" width="29.8" height="35.8" fill="url(#tankG)"/>
<ellipse cx="695.2" cy="746.7" rx="14.9" ry="3.5" fill="#d8d9db"/>
<rect x="690.2" y="742.7" width="10" height="4" fill="#cfd0d2"/>
<path d="M682.3,777.5 L682.3,760.7 Q683.3,753.7 689.3,754.7" fill="none" stroke="#f4f4f5" stroke-width="2.4"/>
<rect x="706.4" y="754.2" width="29.8" height="35.8" fill="url(#tankG)"/>
<ellipse cx="721.3" cy="754.2" rx="14.9" ry="3.5" fill="#d8d9db"/>
<rect x="716.3" y="750.2" width="10" height="4" fill="#cfd0d2"/>
<path d="M708.4,784.9 L708.4,768.2 Q709.4,761.2 715.4,762.2" fill="none" stroke="#f4f4f5" stroke-width="2.4"/>
<g transform="translate(598.3,767.6) rotate(16.64)"><rect x="0" y="-7.5" width="135.3" height="15.0" fill="url(#ductG)"/><ellipse cx="135.3" cy="0" rx="4.1" ry="7.5" fill="#8f9092"/><ellipse cx="0" cy="0" rx="4.1" ry="7.5" fill="#d9dadc"/></g>
<g transform="translate(599.8,781.0) rotate(16.65)"><rect x="0" y="-6.5" width="150.9" height="13.0" fill="url(#ductG)"/><ellipse cx="150.9" cy="0" rx="3.6" ry="6.5" fill="#8f9092"/><ellipse cx="0" cy="0" rx="3.6" ry="6.5" fill="#d9dadc"/></g>
<polygon points="598.3,757.9 608.7,760.1 608.0,763.1 598.3,760.9" fill="#b9664f" />
<polygon points="621.4,765.4 631.8,767.6 631.1,770.6 621.4,768.3" fill="#b9664f" />
<polygon points="645.3,773.6 655.7,775.8 654.9,778.8 645.3,776.5" fill="#b9664f" />
<polygon points="669.1,781.8 679.5,784.0 678.8,787.0 669.1,784.7" fill="#b9664f" />
<polygon points="695.9,789.9 706.4,792.2 705.6,795.2 695.9,792.9" fill="#b9664f" />
<polyline points="600.6,779.5 600.6,828.7 720.5,871.9 759.3,852.5 759.3,801.9 733.9,794.4" fill="none" stroke="#d3d4d6" stroke-width="1.6" />
<line x1="600.6" y1="828.7" x2="720.5" y2="871.9" stroke="#d3d4d6" stroke-width="1.6" />
<line x1="720.5" y1="819.8" x2="720.5" y2="871.9" stroke="#d3d4d6" stroke-width="1.6" />
<line x1="720.5" y1="819.8" x2="759.3" y2="801.9" stroke="#d3d4d6" stroke-width="1.6" />
<line x1="614.7" y1="785.5" x2="720.5" y2="819.8" stroke="#d3d4d6" stroke-width="1.6" />
<line x1="613.2" y1="786.4" x2="613.2" y2="833.3" stroke="#d3d4d6" stroke-width="1.6" />
<line x1="628.1" y1="791.1" x2="628.1" y2="838.6" stroke="#d3d4d6" stroke-width="1.6" />
<line x1="643.0" y1="795.7" x2="643.0" y2="844.0" stroke="#d3d4d6" stroke-width="1.6" />
<line x1="658.7" y1="800.5" x2="658.7" y2="849.6" stroke="#d3d4d6" stroke-width="1.6" />
<line x1="674.3" y1="805.4" x2="674.3" y2="855.3" stroke="#d3d4d6" stroke-width="1.6" />
<line x1="690.0" y1="810.3" x2="690.0" y2="860.9" stroke="#d3d4d6" stroke-width="1.6" />
<line x1="706.4" y1="815.4" x2="706.4" y2="866.8" stroke="#d3d4d6" stroke-width="1.6" />
<line x1="739.9" y1="809.3" x2="739.9" y2="863.0" stroke="#d3d4d6" stroke-width="1.4" />
<polygon points="785.7,183.4 818.6,176.7 853.8,186.2 834.2,190.7 821.4,193.5" fill="#e6e8ec" />
<polygon points="785.7,183.4 821.4,193.5 821.4,218.6 786.2,208.5" fill="#e2e3e6" />
<polygon points="821.4,193.5 853.8,186.2 853.8,209.6 821.4,218.6" fill="#d8d9dc" />
<ellipse cx="793.5" cy="182.9" rx="2.9" ry="1.2" fill="#2f3033"/>
<ellipse cx="801.3" cy="181.7" rx="2.9" ry="1.2" fill="#2f3033"/>
<ellipse cx="809.1" cy="180.6" rx="2.9" ry="1.2" fill="#2f3033"/>
<ellipse cx="818.6" cy="178.4" rx="2.9" ry="1.2" fill="#2f3033"/>
<ellipse cx="802.4" cy="185.1" rx="2.9" ry="1.2" fill="#2f3033"/>
<ellipse cx="810.2" cy="183.4" rx="2.9" ry="1.2" fill="#2f3033"/>
<ellipse cx="819.2" cy="181.7" rx="2.9" ry="1.2" fill="#2f3033"/>
<ellipse cx="827.5" cy="179.8" rx="2.9" ry="1.2" fill="#2f3033"/>
<ellipse cx="810.2" cy="187.3" rx="2.9" ry="1.2" fill="#2f3033"/>
<ellipse cx="818.0" cy="185.6" rx="2.9" ry="1.2" fill="#2f3033"/>
<ellipse cx="827.0" cy="183.4" rx="2.9" ry="1.2" fill="#2f3033"/>
<ellipse cx="836.5" cy="181.7" rx="2.9" ry="1.2" fill="#2f3033"/>
<ellipse cx="819.2" cy="189.6" rx="2.9" ry="1.2" fill="#2f3033"/>
<ellipse cx="827.0" cy="187.9" rx="2.9" ry="1.2" fill="#2f3033"/>
<ellipse cx="835.9" cy="185.6" rx="2.9" ry="1.2" fill="#2f3033"/>
<ellipse cx="844.8" cy="184.0" rx="2.9" ry="1.2" fill="#2f3033"/>
<polyline points="781.5,209.6 781.5,185.1 785.7,183.4 818.6,176.7" fill="none" stroke="#5b5bb0" stroke-width="1.3" />
<polyline points="816.4,220.2 816.4,208.5 821.4,205.7 854.9,198.5" fill="none" stroke="#b7604e" stroke-width="1.2" />
<line x1="786.2" y1="185.1" x2="821.4" y2="194.0" stroke="#b7604e" stroke-width="0.9" />
<line x1="821.4" y1="193.5" x2="853.8" y2="186.8" stroke="#b7604e" stroke-width="0.9" />
<line x1="786.2" y1="196.2" x2="786.2" y2="207.4" stroke="#c7c8cb" stroke-width="1" />
<line x1="795.2" y1="198.5" x2="795.2" y2="210.1" stroke="#c7c8cb" stroke-width="1" />
<line x1="803.5" y1="200.6" x2="803.5" y2="212.6" stroke="#c7c8cb" stroke-width="1" />
<line x1="812.5" y1="202.8" x2="812.5" y2="215.3" stroke="#c7c8cb" stroke-width="1" />
<line x1="821.4" y1="205.0" x2="821.4" y2="218.0" stroke="#c7c8cb" stroke-width="1" />
<polygon points="823.1,194.0 827.5,193.2 826.4,204.1 824.2,204.3" fill="#7a7c82" />
<polygon points="829.8,192.9 834.2,192.1 833.1,202.9 830.9,203.2" fill="#7a7c82" />
<polygon points="841.5,188.4 845.9,187.6 844.8,198.5 842.6,198.8" fill="#7a7c82" />
<polygon points="848.2,187.3 852.6,186.5 851.5,197.4 849.3,197.6" fill="#7a7c82" />
<polygon points="753.4,351.5 763.8,349.3 792.2,354.5 792.2,358.2 781.7,356.0" fill="#6d6e71" />
<polygon points="832.4,358.2 854.0,356.0 854.0,358.2 833.9,360.5" fill="#7a7b7e" />
<polygon points="740.0,341.1 748.2,342.6 744.5,344.1 740.0,343.3" fill="#8a8b8e" />
<defs><linearGradient id="spG" x1="0" y1="0" x2="1" y2="0"><stop offset="0" stop-color="#8c8d90"/><stop offset="0.5" stop-color="#e6e7e8"/><stop offset="1" stop-color="#8c8d90"/></linearGradient></defs>
<path d="M804.8,298.6 Q810.8,291.2 816.8,298.6 L816.8,313.5 Q814.5,321.7 814.5,335.1 L808.2,335.1 Q808.2,321.7 804.8,313.5 Z" fill="url(#spG)"/>
<ellipse cx="811.5" cy="338.1" rx="10" ry="5" fill="#4f5054"/>
<polygon points="792.2,341.8 807.1,339.6 830.9,341.1 814.5,344.1" fill="#e6e6e8" />
<polygon points="792.2,341.8 814.5,344.1 814.5,359.0 792.2,357.5" fill="#d2d3d5" />
<polygon points="797.0,344.1 800.7,344.7 800.7,349.3 797.0,348.7" fill="#34404a" />
<line x1="794.4" y1="357.5" x2="794.4" y2="363.5" stroke="#c9cacc" stroke-width="2.4" />
<line x1="811.5" y1="359.0" x2="811.5" y2="367.2" stroke="#c9cacc" stroke-width="2.4" />
<line x1="830.2" y1="341.8" x2="830.2" y2="362.7" stroke="#c9cacc" stroke-width="2.4" />
<line x1="814.5" y1="344.8" x2="830.9" y2="341.8" stroke="#c9cacc" stroke-width="2.4" />
<polygon points="1216.7,343.3 1235.7,338.0 1252.6,341.2 1235.0,346.8" fill="#a9aaac" />
<polygon points="1216.7,343.3 1235.0,346.8 1239.3,367.2 1229.4,364.4 1221.0,356.0" fill="#d3d4d6" />
<polygon points="1235.0,346.8 1252.6,341.2 1239.3,367.2" fill="#c3c4c6" />
<rect x="1218.1" y="345.4" width="2.5" height="4.0" fill="#8d8e90" />
<rect x="1222.4" y="345.4" width="2.5" height="4.0" fill="#8d8e90" />
<rect x="1226.6" y="345.4" width="2.5" height="4.0" fill="#8d8e90" />
<rect x="1229.4" y="345.4" width="2.5" height="4.0" fill="#8d8e90" />
<polygon points="1210.4,361.6 1229.4,361.6 1243.5,370.0 1243.5,375.7 1210.4,378.5" fill="#d6d7d9" />
<ellipse cx="1235.7" cy="371.4" rx="8" ry="5" fill="#eeeeef"/>
<polygon points="1209.7,363.0 1214.6,363.0 1214.6,378.5 1210.1,378.5" fill="#8a8b8d" />
<circle cx="1212.9" cy="353.1" r="3" fill="#c9504a"/>
<polygon points="1245.6,365.1 1264.6,362.3 1278.7,364.4 1261.1,367.9" fill="#e4e5e6" />
<polygon points="1224.5,378.5 1261.1,367.9 1261.1,402.4 1224.5,394.7" fill="#dfe0e2" />
<polygon points="1228.0,382.0 1251.9,386.2 1251.9,396.8 1228.0,394.7" fill="#a3a4a6" />
<line x1="1228.7" y1="383.4" x2="1251.2" y2="387.3" stroke="#8a8b8d" stroke-width="0.6" />
<line x1="1228.7" y1="385.5" x2="1251.2" y2="389.4" stroke="#8a8b8d" stroke-width="0.6" />
<line x1="1228.7" y1="387.6" x2="1251.2" y2="391.5" stroke="#8a8b8d" stroke-width="0.6" />
<line x1="1228.7" y1="389.7" x2="1251.2" y2="393.6" stroke="#8a8b8d" stroke-width="0.6" />
<line x1="1228.7" y1="391.9" x2="1251.2" y2="395.7" stroke="#8a8b8d" stroke-width="0.6" />
<line x1="1228.7" y1="394.0" x2="1251.2" y2="397.8" stroke="#8a8b8d" stroke-width="0.6" />
<polygon points="1261.1,367.9 1278.7,364.4 1278.7,398.9 1261.1,402.4" fill="#cfd0d2" />
<polygon points="1264.6,372.9 1275.9,371.4 1275.9,396.8 1264.6,398.2" fill="#9c9d9f" />
<polygon points="1256.2,348.9 1270.9,348.9 1270.9,361.6 1256.2,361.6" fill="#46474a" />
<polygon points="1258.3,351.0 1268.8,351.0 1268.8,356.7 1258.3,356.7" fill="#e6e6e7" />
<polygon points="1260.4,351.7 1266.7,351.7 1266.7,356.0 1260.4,356.0" fill="#505357" />
<circle cx="1226.6" cy="399.6" r="1.8" fill="#3b3b3d"/>
<circle cx="1257.6" cy="404.5" r="1.8" fill="#3b3b3d"/>
<circle cx="1276.6" cy="398.2" r="1.8" fill="#3b3b3d"/>
<text x="365.0" y="230.7" textLength="181.0" lengthAdjust="spacingAndGlyphs" class="lb">Lưu trữ nguyên liệu</text>
<text x="704.0" y="163.8" textLength="223.0" lengthAdjust="spacingAndGlyphs" class="lb">Làm mát trong quy trình</text>
<text x="719.6" y="285.9" textLength="191.0" lengthAdjust="spacingAndGlyphs" class="lb">Xử lý nguyên vật liệu</text>
<text x="1067.6" y="282.9" textLength="177.6" lengthAdjust="spacingAndGlyphs" class="lb">Sản xuất màng thổi</text>
<text x="1558.6" y="354.9" textLength="173.2" lengthAdjust="spacingAndGlyphs" class="lb">Sản xuất màng đúc</text>
<text x="1132.2" y="422.6" textLength="296.4" lengthAdjust="spacingAndGlyphs" class="lb">Tái chế sau sản xuất công nghiệp</text>
<text x="565.2" y="502.0" textLength="69.0" lengthAdjust="spacingAndGlyphs" class="lb">In flexo</text>
<text x="837.8" y="582.9" textLength="110.0" lengthAdjust="spacingAndGlyphs" class="lb">In ống đồng</text>
<text x="1713.6" y="599.9" textLength="104.6" lengthAdjust="spacingAndGlyphs" class="lb">Ghép màng</text>
<text x="176.0" y="620.0" textLength="93.0" lengthAdjust="spacingAndGlyphs" class="lb">Lắp bản in</text>
<text x="558.6" y="655.3" textLength="182.0" lengthAdjust="spacingAndGlyphs" class="lb">Vệ sinh công nghiệp</text>
<text x="1121.8" y="653.7" textLength="125.4" lengthAdjust="spacingAndGlyphs" class="lb">In kỹ thuật số</text>
<text x="325.2" y="740.7" textLength="152.6" lengthAdjust="spacingAndGlyphs" class="lb">Tái chế dung môi</text>
<text x="1425.8" y="747.7" textLength="177.2" lengthAdjust="spacingAndGlyphs" class="lb">Chia cuộn/thu cuộn</text>
<text x="1083.8" y="855.7" textLength="169.8" lengthAdjust="spacingAndGlyphs" class="lb">Sản xuất túi bao bì</text>
<text x="548.6" y="898.6" textLength="244.2" lengthAdjust="spacingAndGlyphs" class="lb">Hệ thống thu hồi dung môi</text>
<text x="1477.4" y="941.7" textLength="151.4" lengthAdjust="spacingAndGlyphs" class="lb">Kho thành phẩm</text>
<text x="1262" y="1042.6" textLength="782.6" lengthAdjust="spacingAndGlyphs" class="t1">GIẢI PHÁP VÀ QUY TRÌNH SẢN XUẤT</text>
<text x="1785.2" y="1101.9" textLength="259.6" lengthAdjust="spacingAndGlyphs" class="t2">BAO BÌ MỀM</text>
<path d="M1697,189.8 L1697,160 L2043.8,160 L2043.8,189.8 Z" fill="#898a8c"/>
<circle cx="1691.9" cy="149.4" r="39.3" fill="#fff"/>
<circle cx="1691.9" cy="149.4" r="36.9" fill="#e9342a"/>
<path d="M1676.8,122.3 H1699.7 C1708.5,122.3 1714.6,129.5 1714.6,137.5 C1714.6,145.5 1709,151 1703,153 L1698.4,154 H1676.8 V146.1 H1684.8 V139.1 H1676.8 V132.2 H1684.8 V129.2 H1676.8 Z M1692.1,132.2 V146.1 H1699.7 C1704,146.1 1707.3,142 1707.3,137.5 C1707.3,133 1704,129.2 1699.7,129.2 H1692.1 Z" fill="#fff" fill-rule="evenodd"/><path d="M1684.8,132.2 H1692.1 V163 C1692.1,171 1686,176.9 1678.5,176.9 C1670,176.9 1664.5,170 1662.9,162.3 H1670.5 C1671.5,166.5 1674.5,169.6 1678.5,169.6 C1682.5,169.6 1684.8,166.5 1684.8,163 Z" fill="#fff"/><path d="M1698.4,154 L1706.3,151.7 C1710,156 1714,165 1715.9,172.3 H1708.3 C1706.5,165 1703,158.5 1698.4,154 Z" fill="#fff"/>
<text x="1735" y="156.7" textLength="313" lengthAdjust="spacingAndGlyphs" class="lg1">Rieckermann</text>
<text x="1744" y="181.7" textLength="287" lengthAdjust="spacingAndGlyphs" class="lg2">Machinery &amp; Industrial Solutions</text>
</svg></body></html>
